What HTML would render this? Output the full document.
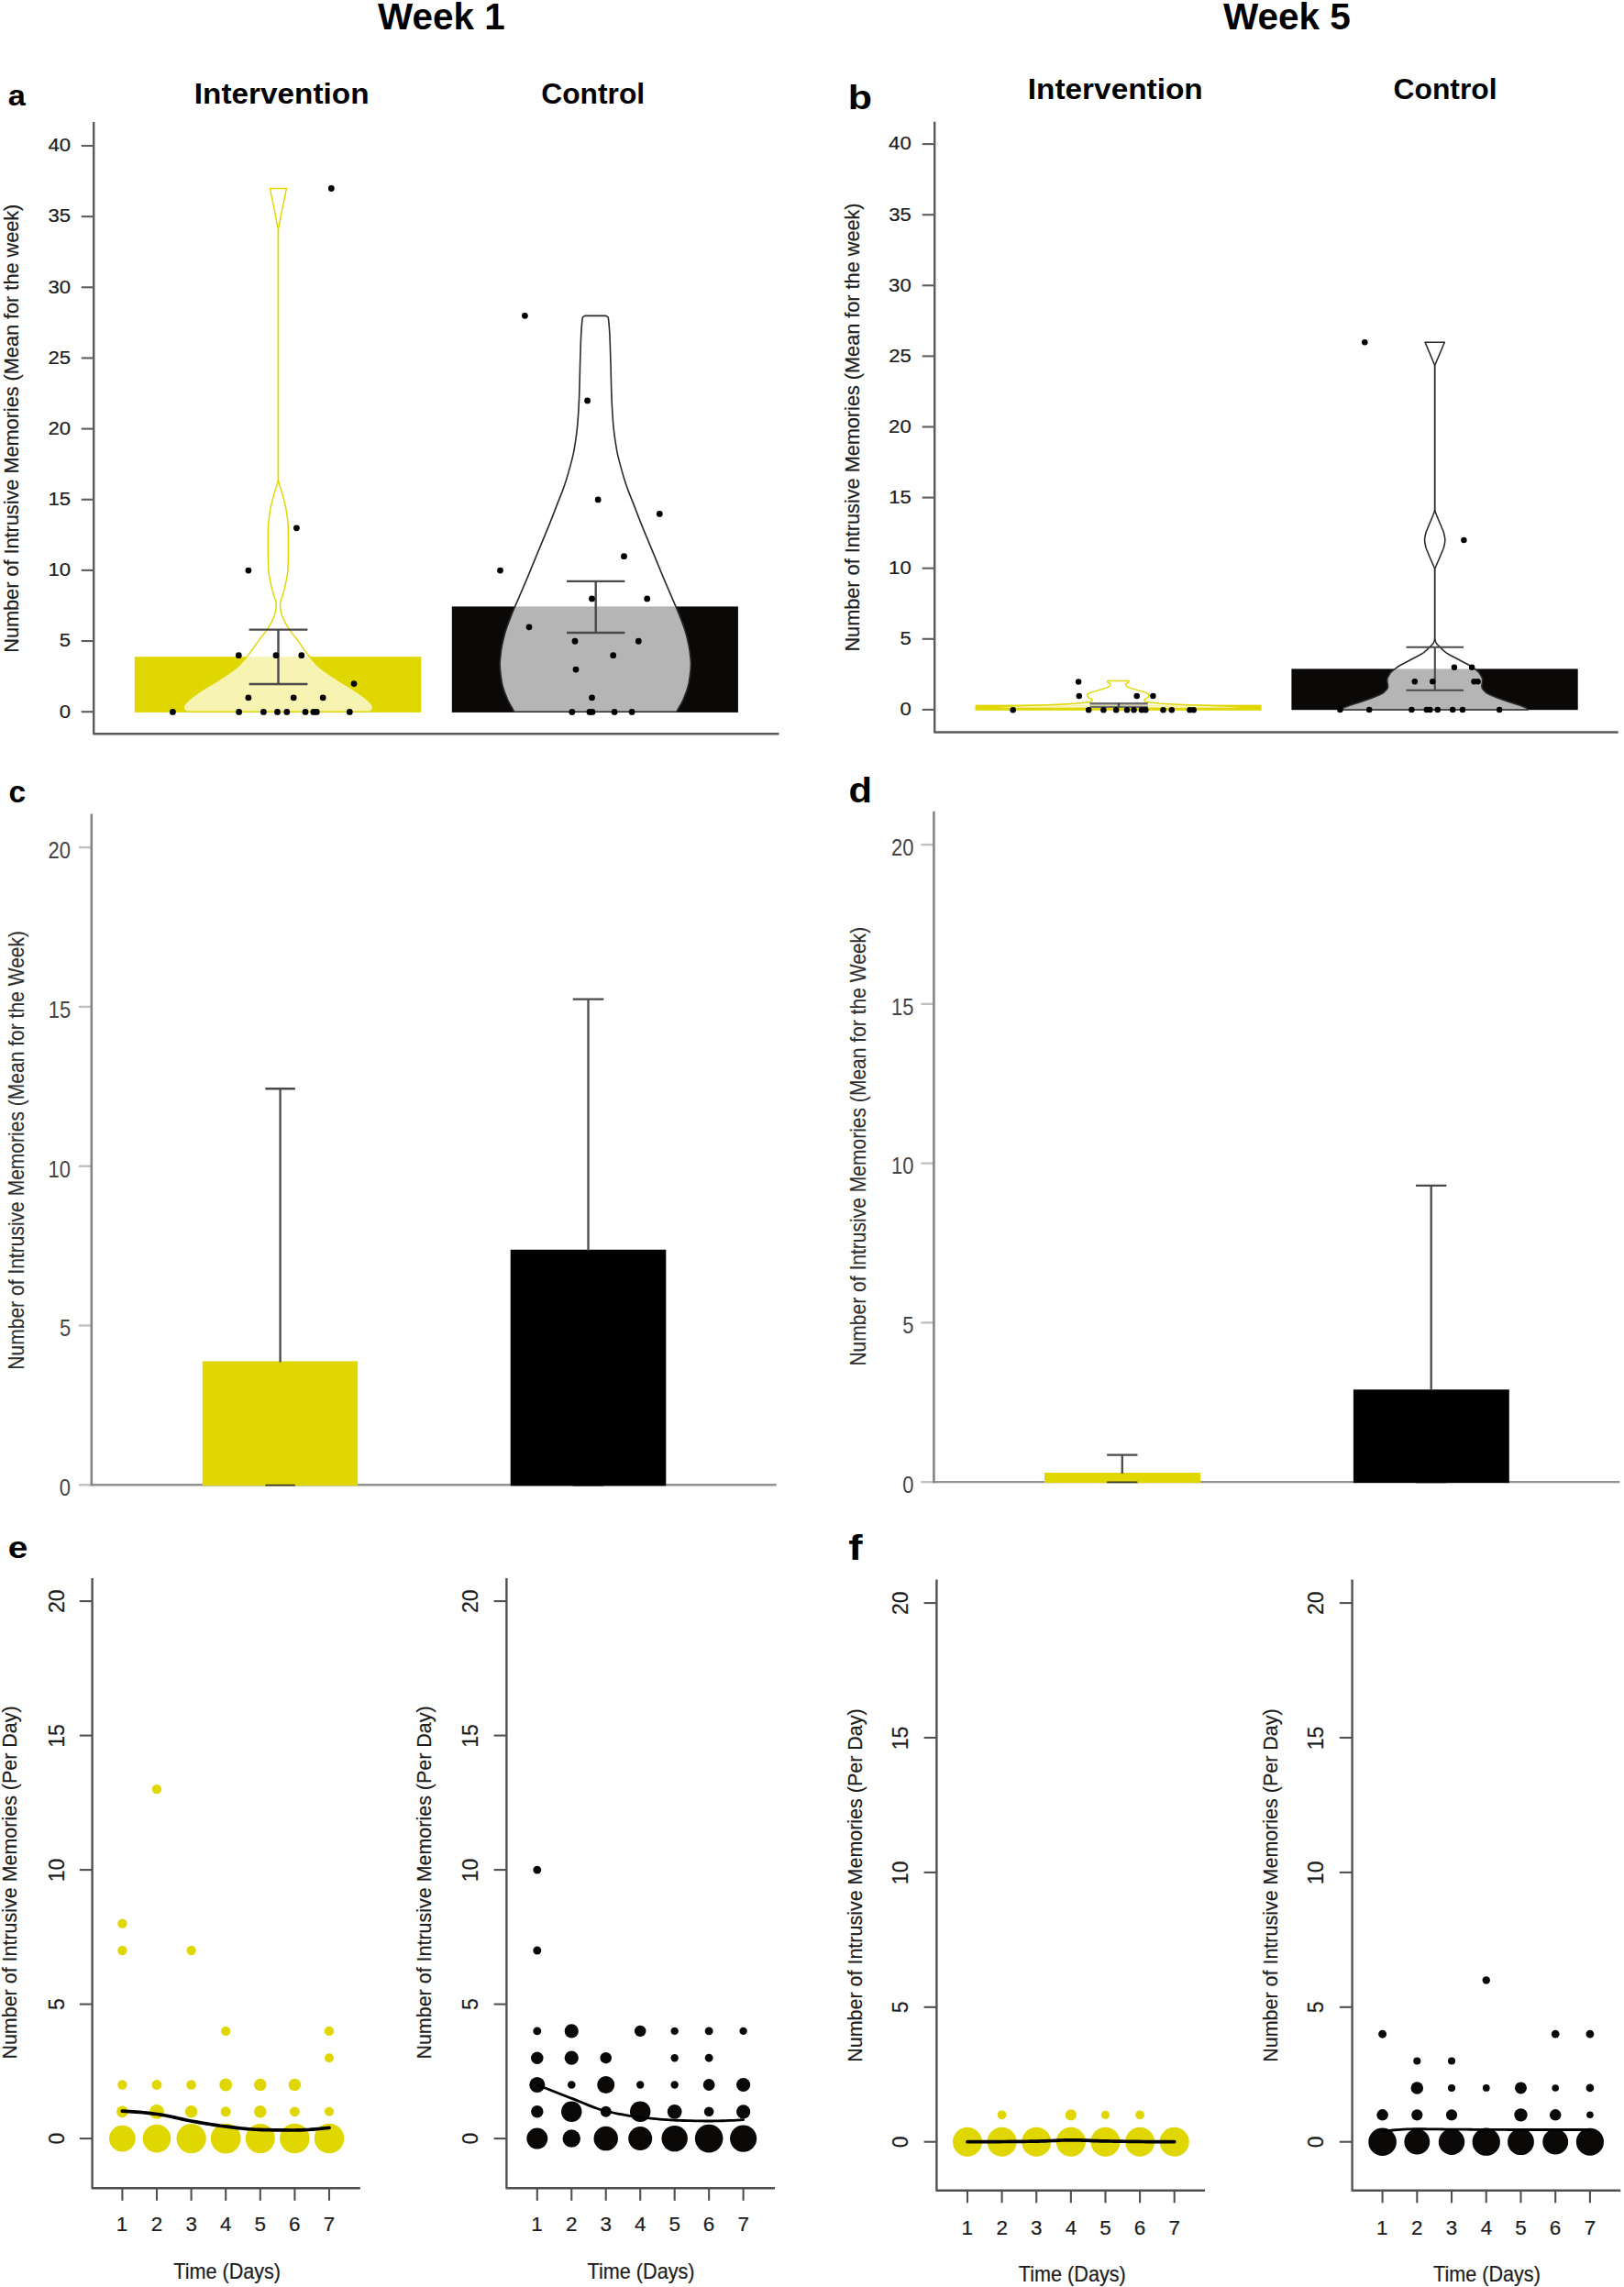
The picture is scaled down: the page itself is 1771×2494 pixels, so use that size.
<!DOCTYPE html>
<html lang="en"><head><meta charset="utf-8"><title>Intrusive memories: Week 1 and Week 5</title>
<style>html,body{margin:0;padding:0;background:#fff}body{width:1771px;height:2494px;overflow:hidden}svg{display:block}text{font-family:'Liberation Sans', sans-serif}</style>
</head><body>
<svg width="1771" height="2494" viewBox="0 0 1771 2494">
<rect width="1771" height="2494" fill="#fff"/>
<text transform="translate(412.1 32.1) scale(0.9816 1)" font-size="41.2" font-weight="700" fill="#000">Week 1</text>
<text transform="translate(1333.9 32.1) scale(0.9844 1)" font-size="41.2" font-weight="700" fill="#000">Week 5</text>
<text transform="translate(211.83 112.5) scale(1.0929 1)" font-size="30.5" font-weight="700" fill="#000">Intervention</text>
<text transform="translate(590.23 112.5) scale(1.0421 1)" font-size="30.5" font-weight="700" fill="#000">Control</text>
<text transform="translate(1120.73 108) scale(1.0947 1)" font-size="30.5" font-weight="700" fill="#000">Intervention</text>
<text transform="translate(1519.53 108.2) scale(1.0431 1)" font-size="30.5" font-weight="700" fill="#000">Control</text>
<text transform="translate(8.87 115.2) scale(1.1094 1)" font-size="31" font-weight="700" fill="#000">a</text>
<text transform="translate(924.81 119.1) scale(1.1489 1)" font-size="37.4" font-weight="700" fill="#000">b</text>
<text transform="translate(9.46 874.7) scale(1.0373 1)" font-size="32.4" font-weight="700" fill="#000">c</text>
<text transform="translate(925.43 874.7) scale(1.0853 1)" font-size="38.5" font-weight="700" fill="#000">d</text>
<text transform="translate(8.74 1699) scale(1.1806 1)" font-size="33" font-weight="700" fill="#000">e</text>
<text transform="translate(925.21 1701) scale(1.1779 1)" font-size="39" font-weight="700" fill="#000">f</text>
<path d="M102.2 133 V800.2 H849.5" fill="none" stroke="#5a5a5a" stroke-width="2.4" stroke-linejoin="round"/>
<line x1="88.7" y1="776.2" x2="102.2" y2="776.2" stroke="#5e5e5e" stroke-width="2.1" stroke-linecap="butt"/>
<text transform="translate(64.69 782.5) scale(1.08 1)" font-size="20.5" fill="#1c1c1c" stroke="#1c1c1c" stroke-width="0.22">0</text>
<line x1="88.7" y1="699.05" x2="102.2" y2="699.05" stroke="#5e5e5e" stroke-width="2.1" stroke-linecap="butt"/>
<text transform="translate(64.8 705.35) scale(1.08 1)" font-size="20.5" fill="#1c1c1c" stroke="#1c1c1c" stroke-width="0.22">5</text>
<line x1="88.7" y1="621.9" x2="102.2" y2="621.9" stroke="#5e5e5e" stroke-width="2.1" stroke-linecap="butt"/>
<text transform="translate(52.4 628.2) scale(1.08 1)" font-size="20.5" fill="#1c1c1c" stroke="#1c1c1c" stroke-width="0.22">10</text>
<line x1="88.7" y1="544.75" x2="102.2" y2="544.75" stroke="#5e5e5e" stroke-width="2.1" stroke-linecap="butt"/>
<text transform="translate(52.51 551.05) scale(1.08 1)" font-size="20.5" fill="#1c1c1c" stroke="#1c1c1c" stroke-width="0.22">15</text>
<line x1="88.7" y1="467.6" x2="102.2" y2="467.6" stroke="#5e5e5e" stroke-width="2.1" stroke-linecap="butt"/>
<text transform="translate(52.4 473.9) scale(1.08 1)" font-size="20.5" fill="#1c1c1c" stroke="#1c1c1c" stroke-width="0.22">20</text>
<line x1="88.7" y1="390.45" x2="102.2" y2="390.45" stroke="#5e5e5e" stroke-width="2.1" stroke-linecap="butt"/>
<text transform="translate(52.51 396.75) scale(1.08 1)" font-size="20.5" fill="#1c1c1c" stroke="#1c1c1c" stroke-width="0.22">25</text>
<line x1="88.7" y1="313.3" x2="102.2" y2="313.3" stroke="#5e5e5e" stroke-width="2.1" stroke-linecap="butt"/>
<text transform="translate(52.4 319.6) scale(1.08 1)" font-size="20.5" fill="#1c1c1c" stroke="#1c1c1c" stroke-width="0.22">30</text>
<line x1="88.7" y1="236.15" x2="102.2" y2="236.15" stroke="#5e5e5e" stroke-width="2.1" stroke-linecap="butt"/>
<text transform="translate(52.51 242.45) scale(1.08 1)" font-size="20.5" fill="#1c1c1c" stroke="#1c1c1c" stroke-width="0.22">35</text>
<line x1="88.7" y1="159" x2="102.2" y2="159" stroke="#5e5e5e" stroke-width="2.1" stroke-linecap="butt"/>
<text transform="translate(52.4 165.3) scale(1.08 1)" font-size="20.5" fill="#1c1c1c" stroke="#1c1c1c" stroke-width="0.22">40</text>
<text transform="translate(19.9 711.74) rotate(-90) scale(1.0091 1)" font-size="21.5" fill="#1c1c1c" stroke="#1c1c1c" stroke-width="0.22">Number of Intrusive Memories (Mean for the week)</text>
<rect x="146.8" y="716.2" width="312.5" height="60.7" fill="#E1D700"/>
<rect x="492.8" y="661.4" width="312.1" height="115.5" fill="#0b0808"/>
<path d="M294.4 205.6 L294.7 207.1 L295 208.6 L295.3 210.1 L295.6 211.6 L295.91 213.1 L296.22 214.6 L296.53 216.1 L296.85 217.6 L297.18 219.1 L297.5 220.6 L297.83 222.1 L298.16 223.6 L298.49 225.1 L298.81 226.6 L299.12 228.1 L299.42 229.6 L299.71 231.1 L299.99 232.6 L300.26 234.1 L300.53 235.6 L300.79 237.1 L301.05 238.6 L301.31 240.1 L301.57 241.6 L301.85 243.1 L302.12 244.6 L302.45 246.1 L302.84 247.6 L303.17 249.1 L303.3 250.6 L303.3 252.1 L303.3 253.6 L303.3 255.1 L303.3 256.6 L303.3 258.1 L303.3 259.6 L303.3 261.1 L303.3 262.6 L303.3 264.1 L303.3 265.6 L303.3 267.1 L303.3 268.6 L303.3 270.1 L303.3 271.6 L303.3 273.1 L303.3 274.6 L303.3 276.1 L303.3 277.6 L303.3 279.1 L303.3 280.6 L303.3 282.1 L303.3 283.6 L303.3 285.1 L303.3 286.6 L303.3 288.1 L303.3 289.6 L303.3 291.1 L303.3 292.6 L303.3 294.1 L303.3 295.6 L303.3 297.1 L303.3 298.6 L303.3 300.1 L303.3 301.6 L303.3 303.1 L303.3 304.6 L303.3 306.1 L303.3 307.6 L303.3 309.1 L303.3 310.6 L303.3 312.1 L303.3 313.6 L303.3 315.1 L303.3 316.6 L303.3 318.1 L303.3 319.6 L303.3 321.1 L303.3 322.6 L303.3 324.1 L303.3 325.6 L303.3 327.1 L303.3 328.6 L303.3 330.1 L303.3 331.6 L303.3 333.1 L303.3 334.6 L303.3 336.1 L303.3 337.6 L303.3 339.1 L303.3 340.6 L303.3 342.1 L303.3 343.6 L303.3 345.1 L303.3 346.6 L303.3 348.1 L303.3 349.6 L303.3 351.1 L303.3 352.6 L303.3 354.1 L303.3 355.6 L303.3 357.1 L303.3 358.6 L303.3 360.1 L303.3 361.6 L303.3 363.1 L303.3 364.6 L303.3 366.1 L303.3 367.6 L303.3 369.1 L303.3 370.6 L303.3 372.1 L303.3 373.6 L303.3 375.1 L303.3 376.6 L303.3 378.1 L303.3 379.6 L303.3 381.1 L303.3 382.6 L303.3 384.1 L303.3 385.6 L303.3 387.1 L303.3 388.6 L303.3 390.1 L303.3 391.6 L303.3 393.1 L303.3 394.6 L303.3 396.1 L303.3 397.6 L303.3 399.1 L303.3 400.6 L303.3 402.1 L303.3 403.6 L303.3 405.1 L303.3 406.6 L303.3 408.1 L303.3 409.6 L303.3 411.1 L303.3 412.6 L303.3 414.1 L303.3 415.6 L303.3 417.1 L303.3 418.6 L303.3 420.1 L303.3 421.6 L303.3 423.1 L303.3 424.6 L303.3 426.1 L303.3 427.6 L303.3 429.1 L303.3 430.6 L303.3 432.1 L303.3 433.6 L303.3 435.1 L303.3 436.6 L303.3 438.1 L303.3 439.6 L303.3 441.1 L303.3 442.6 L303.3 444.1 L303.3 445.6 L303.3 447.1 L303.3 448.6 L303.3 450.1 L303.3 451.6 L303.3 453.1 L303.3 454.6 L303.3 456.1 L303.3 457.6 L303.3 459.1 L303.3 460.6 L303.3 462.1 L303.3 463.6 L303.3 465.1 L303.3 466.6 L303.3 468.1 L303.3 469.6 L303.3 471.1 L303.3 472.6 L303.3 474.1 L303.3 475.6 L303.3 477.1 L303.3 478.6 L303.3 480.1 L303.3 481.6 L303.3 483.1 L303.3 484.6 L303.3 486.1 L303.3 487.6 L303.3 489.1 L303.3 490.6 L303.3 492.1 L303.3 493.6 L303.3 495.1 L303.3 496.6 L303.3 498.1 L303.3 499.6 L303.3 501.1 L303.3 502.6 L303.3 504.1 L303.3 505.6 L303.3 507.1 L303.3 508.6 L303.3 510.1 L303.3 511.6 L303.3 513.1 L303.3 514.6 L303.3 516.1 L303.3 517.6 L303.3 519.1 L303.3 520.6 L303.3 522.1 L303.27 523.6 L303.01 525.1 L302.6 526.6 L302.17 528.1 L301.75 529.6 L301.28 531.1 L300.79 532.6 L300.3 534.1 L299.84 535.6 L299.4 537.1 L298.96 538.6 L298.52 540.1 L298.1 541.6 L297.69 543.1 L297.3 544.6 L296.92 546.1 L296.54 547.6 L296.16 549.1 L295.8 550.6 L295.45 552.1 L295.13 553.6 L294.84 555.1 L294.6 556.6 L294.38 558.1 L294.16 559.6 L293.94 561.1 L293.73 562.6 L293.53 564.1 L293.33 565.6 L293.15 567.1 L292.98 568.6 L292.83 570.1 L292.7 571.6 L292.59 573.1 L292.5 574.6 L292.44 576.1 L292.4 577.6 L292.39 579.1 L292.38 580.6 L292.37 582.1 L292.35 583.6 L292.34 585.1 L292.34 586.6 L292.33 588.1 L292.32 589.6 L292.32 591.1 L292.31 592.6 L292.31 594.1 L292.3 595.6 L292.3 597.1 L292.3 598.6 L292.3 600.1 L292.31 601.6 L292.32 603.1 L292.34 604.6 L292.36 606.1 L292.39 607.6 L292.42 609.1 L292.46 610.6 L292.5 612.1 L292.55 613.6 L292.59 615.1 L292.65 616.6 L292.71 618.1 L292.77 619.6 L292.84 621.1 L292.95 622.6 L293.11 624.1 L293.31 625.6 L293.54 627.1 L293.8 628.6 L294.07 630.1 L294.35 631.6 L294.64 633.1 L294.92 634.6 L295.21 636.1 L295.54 637.6 L295.88 639.1 L296.25 640.6 L296.63 642.1 L297.02 643.6 L297.43 645.1 L297.83 646.6 L298.24 648.1 L298.67 649.6 L299.2 651.1 L299.78 652.6 L300.35 654.1 L300.83 655.6 L301.17 657.1 L301.3 658.6 L301.26 660.1 L301.15 661.6 L300.99 663.1 L300.79 664.6 L300.56 666.1 L300.31 667.6 L299.95 669.1 L299.47 670.6 L298.89 672.1 L298.25 673.6 L297.57 675.1 L296.88 676.6 L296.18 678.1 L295.4 679.6 L294.57 681.1 L293.68 682.6 L292.75 684.1 L291.79 685.6 L290.8 687.1 L289.73 688.6 L288.61 690.1 L287.44 691.6 L286.25 693.1 L285.05 694.6 L283.87 696.1 L282.72 697.6 L281.62 699.1 L280.55 700.6 L279.51 702.1 L278.49 703.6 L277.47 705.1 L276.44 706.6 L275.4 708.1 L274.32 709.6 L273.21 711.1 L272.04 712.6 L270.85 714.1 L269.65 715.6 L268.42 717.1 L267.16 718.6 L265.85 720.1 L264.5 721.6 L263.09 723.1 L261.6 724.6 L260.04 726.1 L258.38 727.6 L256.57 729.1 L254.63 730.6 L252.59 732.1 L250.46 733.6 L248.27 735.1 L246.03 736.6 L243.77 738.1 L241.5 739.6 L239.25 741.1 L236.92 742.6 L234.49 744.1 L232 745.6 L229.47 747.1 L226.94 748.6 L224.44 750.1 L222 751.6 L219.65 753.1 L217.43 754.6 L215.3 756.1 L213.17 757.6 L211.09 759.1 L209.1 760.6 L207.25 762.1 L205.57 763.6 L204.12 765.1 L202.64 766.6 L201.27 768.1 L200.37 769.6 L200.22 771.1 L200.39 772.6 L200.76 774.1 L202.63 775.6 L204.4 776.3 L402.4 776.3 L404.17 775.6 L406.04 774.1 L406.41 772.6 L406.58 771.1 L406.43 769.6 L405.53 768.1 L404.16 766.6 L402.68 765.1 L401.23 763.6 L399.55 762.1 L397.7 760.6 L395.71 759.1 L393.63 757.6 L391.5 756.1 L389.37 754.6 L387.15 753.1 L384.8 751.6 L382.36 750.1 L379.86 748.6 L377.33 747.1 L374.8 745.6 L372.31 744.1 L369.88 742.6 L367.55 741.1 L365.3 739.6 L363.03 738.1 L360.77 736.6 L358.53 735.1 L356.34 733.6 L354.21 732.1 L352.17 730.6 L350.23 729.1 L348.42 727.6 L346.76 726.1 L345.2 724.6 L343.71 723.1 L342.3 721.6 L340.95 720.1 L339.64 718.6 L338.38 717.1 L337.15 715.6 L335.95 714.1 L334.76 712.6 L333.59 711.1 L332.48 709.6 L331.4 708.1 L330.36 706.6 L329.33 705.1 L328.31 703.6 L327.29 702.1 L326.25 700.6 L325.18 699.1 L324.08 697.6 L322.93 696.1 L321.75 694.6 L320.55 693.1 L319.36 691.6 L318.19 690.1 L317.07 688.6 L316 687.1 L315.01 685.6 L314.05 684.1 L313.12 682.6 L312.23 681.1 L311.4 679.6 L310.62 678.1 L309.92 676.6 L309.23 675.1 L308.55 673.6 L307.91 672.1 L307.33 670.6 L306.85 669.1 L306.49 667.6 L306.24 666.1 L306.01 664.6 L305.81 663.1 L305.65 661.6 L305.54 660.1 L305.5 658.6 L305.63 657.1 L305.97 655.6 L306.45 654.1 L307.02 652.6 L307.6 651.1 L308.13 649.6 L308.56 648.1 L308.97 646.6 L309.37 645.1 L309.78 643.6 L310.17 642.1 L310.55 640.6 L310.92 639.1 L311.26 637.6 L311.59 636.1 L311.88 634.6 L312.16 633.1 L312.45 631.6 L312.73 630.1 L313 628.6 L313.26 627.1 L313.49 625.6 L313.69 624.1 L313.85 622.6 L313.96 621.1 L314.03 619.6 L314.09 618.1 L314.15 616.6 L314.21 615.1 L314.25 613.6 L314.3 612.1 L314.34 610.6 L314.38 609.1 L314.41 607.6 L314.44 606.1 L314.46 604.6 L314.48 603.1 L314.49 601.6 L314.5 600.1 L314.5 598.6 L314.5 597.1 L314.5 595.6 L314.49 594.1 L314.49 592.6 L314.48 591.1 L314.48 589.6 L314.47 588.1 L314.46 586.6 L314.46 585.1 L314.45 583.6 L314.43 582.1 L314.42 580.6 L314.41 579.1 L314.4 577.6 L314.36 576.1 L314.3 574.6 L314.21 573.1 L314.1 571.6 L313.97 570.1 L313.82 568.6 L313.65 567.1 L313.47 565.6 L313.27 564.1 L313.07 562.6 L312.86 561.1 L312.64 559.6 L312.42 558.1 L312.2 556.6 L311.96 555.1 L311.67 553.6 L311.35 552.1 L311 550.6 L310.64 549.1 L310.26 547.6 L309.88 546.1 L309.5 544.6 L309.11 543.1 L308.7 541.6 L308.28 540.1 L307.84 538.6 L307.4 537.1 L306.96 535.6 L306.5 534.1 L306.01 532.6 L305.52 531.1 L305.05 529.6 L304.63 528.1 L304.2 526.6 L303.79 525.1 L303.53 523.6 L303.5 522.1 L303.5 520.6 L303.5 519.1 L303.5 517.6 L303.5 516.1 L303.5 514.6 L303.5 513.1 L303.5 511.6 L303.5 510.1 L303.5 508.6 L303.5 507.1 L303.5 505.6 L303.5 504.1 L303.5 502.6 L303.5 501.1 L303.5 499.6 L303.5 498.1 L303.5 496.6 L303.5 495.1 L303.5 493.6 L303.5 492.1 L303.5 490.6 L303.5 489.1 L303.5 487.6 L303.5 486.1 L303.5 484.6 L303.5 483.1 L303.5 481.6 L303.5 480.1 L303.5 478.6 L303.5 477.1 L303.5 475.6 L303.5 474.1 L303.5 472.6 L303.5 471.1 L303.5 469.6 L303.5 468.1 L303.5 466.6 L303.5 465.1 L303.5 463.6 L303.5 462.1 L303.5 460.6 L303.5 459.1 L303.5 457.6 L303.5 456.1 L303.5 454.6 L303.5 453.1 L303.5 451.6 L303.5 450.1 L303.5 448.6 L303.5 447.1 L303.5 445.6 L303.5 444.1 L303.5 442.6 L303.5 441.1 L303.5 439.6 L303.5 438.1 L303.5 436.6 L303.5 435.1 L303.5 433.6 L303.5 432.1 L303.5 430.6 L303.5 429.1 L303.5 427.6 L303.5 426.1 L303.5 424.6 L303.5 423.1 L303.5 421.6 L303.5 420.1 L303.5 418.6 L303.5 417.1 L303.5 415.6 L303.5 414.1 L303.5 412.6 L303.5 411.1 L303.5 409.6 L303.5 408.1 L303.5 406.6 L303.5 405.1 L303.5 403.6 L303.5 402.1 L303.5 400.6 L303.5 399.1 L303.5 397.6 L303.5 396.1 L303.5 394.6 L303.5 393.1 L303.5 391.6 L303.5 390.1 L303.5 388.6 L303.5 387.1 L303.5 385.6 L303.5 384.1 L303.5 382.6 L303.5 381.1 L303.5 379.6 L303.5 378.1 L303.5 376.6 L303.5 375.1 L303.5 373.6 L303.5 372.1 L303.5 370.6 L303.5 369.1 L303.5 367.6 L303.5 366.1 L303.5 364.6 L303.5 363.1 L303.5 361.6 L303.5 360.1 L303.5 358.6 L303.5 357.1 L303.5 355.6 L303.5 354.1 L303.5 352.6 L303.5 351.1 L303.5 349.6 L303.5 348.1 L303.5 346.6 L303.5 345.1 L303.5 343.6 L303.5 342.1 L303.5 340.6 L303.5 339.1 L303.5 337.6 L303.5 336.1 L303.5 334.6 L303.5 333.1 L303.5 331.6 L303.5 330.1 L303.5 328.6 L303.5 327.1 L303.5 325.6 L303.5 324.1 L303.5 322.6 L303.5 321.1 L303.5 319.6 L303.5 318.1 L303.5 316.6 L303.5 315.1 L303.5 313.6 L303.5 312.1 L303.5 310.6 L303.5 309.1 L303.5 307.6 L303.5 306.1 L303.5 304.6 L303.5 303.1 L303.5 301.6 L303.5 300.1 L303.5 298.6 L303.5 297.1 L303.5 295.6 L303.5 294.1 L303.5 292.6 L303.5 291.1 L303.5 289.6 L303.5 288.1 L303.5 286.6 L303.5 285.1 L303.5 283.6 L303.5 282.1 L303.5 280.6 L303.5 279.1 L303.5 277.6 L303.5 276.1 L303.5 274.6 L303.5 273.1 L303.5 271.6 L303.5 270.1 L303.5 268.6 L303.5 267.1 L303.5 265.6 L303.5 264.1 L303.5 262.6 L303.5 261.1 L303.5 259.6 L303.5 258.1 L303.5 256.6 L303.5 255.1 L303.5 253.6 L303.5 252.1 L303.5 250.6 L303.63 249.1 L303.96 247.6 L304.35 246.1 L304.68 244.6 L304.95 243.1 L305.23 241.6 L305.49 240.1 L305.75 238.6 L306.01 237.1 L306.27 235.6 L306.54 234.1 L306.81 232.6 L307.09 231.1 L307.38 229.6 L307.68 228.1 L307.99 226.6 L308.31 225.1 L308.64 223.6 L308.97 222.1 L309.3 220.6 L309.62 219.1 L309.95 217.6 L310.27 216.1 L310.58 214.6 L310.89 213.1 L311.2 211.6 L311.5 210.1 L311.8 208.6 L312.1 207.1 L312.4 205.6 Z" fill="rgba(255,255,255,0.7)" stroke="#E1D700" stroke-width="1.5" stroke-linejoin="round"/>
<path d="M637.8 344.4 L635.5 345.9 L635.15 347.4 L634.98 348.9 L634.81 350.4 L634.66 351.9 L634.52 353.4 L634.39 354.9 L634.26 356.4 L634.15 357.9 L634.04 359.4 L633.94 360.9 L633.85 362.4 L633.77 363.9 L633.69 365.4 L633.61 366.9 L633.55 368.4 L633.48 369.9 L633.42 371.4 L633.37 372.9 L633.31 374.4 L633.26 375.9 L633.21 377.4 L633.17 378.9 L633.12 380.4 L633.07 381.9 L633.03 383.4 L632.98 384.9 L632.93 386.4 L632.88 387.9 L632.83 389.4 L632.78 390.9 L632.73 392.4 L632.68 393.9 L632.63 395.4 L632.59 396.9 L632.54 398.4 L632.5 399.9 L632.47 401.4 L632.43 402.9 L632.39 404.4 L632.36 405.9 L632.32 407.4 L632.29 408.9 L632.26 410.4 L632.22 411.9 L632.19 413.4 L632.15 414.9 L632.12 416.4 L632.08 417.9 L632.04 419.4 L632.01 420.9 L631.96 422.4 L631.92 423.9 L631.88 425.4 L631.83 426.9 L631.78 428.4 L631.73 429.9 L631.67 431.4 L631.61 432.9 L631.55 434.4 L631.49 435.9 L631.42 437.4 L631.35 438.9 L631.28 440.4 L631.21 441.9 L631.13 443.4 L631.05 444.9 L630.96 446.4 L630.88 447.9 L630.79 449.4 L630.7 450.9 L630.6 452.4 L630.5 453.9 L630.4 455.4 L630.29 456.9 L630.18 458.4 L630.06 459.9 L629.94 461.4 L629.82 462.9 L629.68 464.4 L629.53 465.9 L629.38 467.4 L629.21 468.9 L629.04 470.4 L628.86 471.9 L628.68 473.4 L628.48 474.9 L628.28 476.4 L628.07 477.9 L627.86 479.4 L627.63 480.9 L627.4 482.4 L627.17 483.9 L626.93 485.4 L626.68 486.9 L626.43 488.4 L626.17 489.9 L625.91 491.4 L625.63 492.9 L625.33 494.4 L625 495.9 L624.66 497.4 L624.3 498.9 L623.93 500.4 L623.55 501.9 L623.16 503.4 L622.76 504.9 L622.36 506.4 L621.95 507.9 L621.54 509.4 L621.13 510.9 L620.72 512.4 L620.29 513.9 L619.87 515.4 L619.43 516.9 L618.98 518.4 L618.53 519.9 L618.07 521.4 L617.6 522.9 L617.12 524.4 L616.64 525.9 L616.15 527.4 L615.65 528.9 L615.14 530.4 L614.62 531.9 L614.09 533.4 L613.54 534.9 L612.98 536.4 L612.41 537.9 L611.82 539.4 L611.23 540.9 L610.63 542.4 L610.03 543.9 L609.43 545.4 L608.83 546.9 L608.24 548.4 L607.65 549.9 L607.06 551.4 L606.48 552.9 L605.9 554.4 L605.33 555.9 L604.75 557.4 L604.18 558.9 L603.6 560.4 L603.02 561.9 L602.44 563.4 L601.86 564.9 L601.28 566.4 L600.69 567.9 L600.1 569.4 L599.5 570.9 L598.9 572.4 L598.29 573.9 L597.68 575.4 L597.07 576.9 L596.45 578.4 L595.83 579.9 L595.2 581.4 L594.58 582.9 L593.95 584.4 L593.33 585.9 L592.7 587.4 L592.08 588.9 L591.45 590.4 L590.83 591.9 L590.22 593.4 L589.6 594.9 L588.98 596.4 L588.36 597.9 L587.74 599.4 L587.12 600.9 L586.5 602.4 L585.88 603.9 L585.26 605.4 L584.64 606.9 L584.02 608.4 L583.4 609.9 L582.78 611.4 L582.16 612.9 L581.55 614.4 L580.93 615.9 L580.31 617.4 L579.7 618.9 L579.08 620.4 L578.47 621.9 L577.85 623.4 L577.23 624.9 L576.61 626.4 L575.99 627.9 L575.36 629.4 L574.74 630.9 L574.11 632.4 L573.47 633.9 L572.83 635.4 L572.19 636.9 L571.55 638.4 L570.91 639.9 L570.26 641.4 L569.62 642.9 L568.97 644.4 L568.33 645.9 L567.68 647.4 L567.04 648.9 L566.4 650.4 L565.76 651.9 L565.12 653.4 L564.47 654.9 L563.81 656.4 L563.16 657.9 L562.51 659.4 L561.85 660.9 L561.2 662.4 L560.56 663.9 L559.92 665.4 L559.3 666.9 L558.68 668.4 L558.08 669.9 L557.49 671.4 L556.92 672.9 L556.34 674.4 L555.76 675.9 L555.19 677.4 L554.62 678.9 L554.05 680.4 L553.5 681.9 L552.97 683.4 L552.45 684.9 L551.94 686.4 L551.47 687.9 L551.01 689.4 L550.59 690.9 L550.2 692.4 L549.82 693.9 L549.44 695.4 L549.07 696.9 L548.72 698.4 L548.37 699.9 L548.04 701.4 L547.72 702.9 L547.42 704.4 L547.14 705.9 L546.88 707.4 L546.64 708.9 L546.42 710.4 L546.23 711.9 L546.06 713.4 L545.89 714.9 L545.72 716.4 L545.56 717.9 L545.42 719.4 L545.31 720.9 L545.23 722.4 L545.2 723.9 L545.21 725.4 L545.26 726.9 L545.33 728.4 L545.44 729.9 L545.57 731.4 L545.72 732.9 L545.9 734.4 L546.08 735.9 L546.29 737.4 L546.5 738.9 L546.72 740.4 L546.94 741.9 L547.18 743.4 L547.46 744.9 L547.8 746.4 L548.17 747.9 L548.59 749.4 L549.04 750.9 L549.52 752.4 L550.03 753.9 L550.57 755.4 L551.12 756.9 L551.7 758.4 L552.29 759.9 L552.89 761.4 L553.51 762.9 L554.2 764.4 L554.98 765.9 L555.8 767.4 L556.67 768.9 L557.55 770.4 L558.41 771.9 L559.25 773.4 L560.05 774.9 L560.8 776.3 L737.8 776.3 L738.55 774.9 L739.35 773.4 L740.19 771.9 L741.05 770.4 L741.93 768.9 L742.8 767.4 L743.62 765.9 L744.4 764.4 L745.09 762.9 L745.71 761.4 L746.31 759.9 L746.9 758.4 L747.48 756.9 L748.03 755.4 L748.57 753.9 L749.08 752.4 L749.56 750.9 L750.01 749.4 L750.43 747.9 L750.8 746.4 L751.14 744.9 L751.42 743.4 L751.66 741.9 L751.88 740.4 L752.1 738.9 L752.31 737.4 L752.52 735.9 L752.7 734.4 L752.88 732.9 L753.03 731.4 L753.16 729.9 L753.27 728.4 L753.34 726.9 L753.39 725.4 L753.4 723.9 L753.37 722.4 L753.29 720.9 L753.18 719.4 L753.04 717.9 L752.88 716.4 L752.71 714.9 L752.54 713.4 L752.37 711.9 L752.18 710.4 L751.96 708.9 L751.72 707.4 L751.46 705.9 L751.18 704.4 L750.88 702.9 L750.56 701.4 L750.23 699.9 L749.88 698.4 L749.53 696.9 L749.16 695.4 L748.78 693.9 L748.4 692.4 L748.01 690.9 L747.59 689.4 L747.13 687.9 L746.66 686.4 L746.15 684.9 L745.63 683.4 L745.1 681.9 L744.55 680.4 L743.98 678.9 L743.41 677.4 L742.84 675.9 L742.26 674.4 L741.68 672.9 L741.11 671.4 L740.52 669.9 L739.92 668.4 L739.3 666.9 L738.68 665.4 L738.04 663.9 L737.4 662.4 L736.75 660.9 L736.09 659.4 L735.44 657.9 L734.79 656.4 L734.13 654.9 L733.48 653.4 L732.84 651.9 L732.2 650.4 L731.56 648.9 L730.92 647.4 L730.27 645.9 L729.63 644.4 L728.98 642.9 L728.34 641.4 L727.69 639.9 L727.05 638.4 L726.41 636.9 L725.77 635.4 L725.13 633.9 L724.49 632.4 L723.86 630.9 L723.24 629.4 L722.61 627.9 L721.99 626.4 L721.37 624.9 L720.75 623.4 L720.13 621.9 L719.52 620.4 L718.9 618.9 L718.29 617.4 L717.67 615.9 L717.05 614.4 L716.44 612.9 L715.82 611.4 L715.2 609.9 L714.58 608.4 L713.96 606.9 L713.34 605.4 L712.72 603.9 L712.1 602.4 L711.48 600.9 L710.86 599.4 L710.24 597.9 L709.62 596.4 L709 594.9 L708.38 593.4 L707.77 591.9 L707.15 590.4 L706.52 588.9 L705.9 587.4 L705.27 585.9 L704.65 584.4 L704.02 582.9 L703.4 581.4 L702.77 579.9 L702.15 578.4 L701.53 576.9 L700.92 575.4 L700.31 573.9 L699.7 572.4 L699.1 570.9 L698.5 569.4 L697.91 567.9 L697.32 566.4 L696.74 564.9 L696.16 563.4 L695.58 561.9 L695 560.4 L694.42 558.9 L693.85 557.4 L693.27 555.9 L692.7 554.4 L692.12 552.9 L691.54 551.4 L690.95 549.9 L690.36 548.4 L689.77 546.9 L689.17 545.4 L688.57 543.9 L687.97 542.4 L687.37 540.9 L686.78 539.4 L686.19 537.9 L685.62 536.4 L685.06 534.9 L684.51 533.4 L683.98 531.9 L683.46 530.4 L682.95 528.9 L682.45 527.4 L681.96 525.9 L681.48 524.4 L681 522.9 L680.53 521.4 L680.07 519.9 L679.62 518.4 L679.17 516.9 L678.73 515.4 L678.31 513.9 L677.88 512.4 L677.47 510.9 L677.06 509.4 L676.65 507.9 L676.24 506.4 L675.84 504.9 L675.44 503.4 L675.05 501.9 L674.67 500.4 L674.3 498.9 L673.94 497.4 L673.6 495.9 L673.27 494.4 L672.97 492.9 L672.69 491.4 L672.43 489.9 L672.17 488.4 L671.92 486.9 L671.67 485.4 L671.43 483.9 L671.2 482.4 L670.97 480.9 L670.74 479.4 L670.53 477.9 L670.32 476.4 L670.12 474.9 L669.92 473.4 L669.74 471.9 L669.56 470.4 L669.39 468.9 L669.22 467.4 L669.07 465.9 L668.92 464.4 L668.78 462.9 L668.66 461.4 L668.54 459.9 L668.42 458.4 L668.31 456.9 L668.2 455.4 L668.1 453.9 L668 452.4 L667.9 450.9 L667.81 449.4 L667.72 447.9 L667.64 446.4 L667.55 444.9 L667.47 443.4 L667.39 441.9 L667.32 440.4 L667.25 438.9 L667.18 437.4 L667.11 435.9 L667.05 434.4 L666.99 432.9 L666.93 431.4 L666.87 429.9 L666.82 428.4 L666.77 426.9 L666.72 425.4 L666.68 423.9 L666.64 422.4 L666.59 420.9 L666.56 419.4 L666.52 417.9 L666.48 416.4 L666.45 414.9 L666.41 413.4 L666.38 411.9 L666.34 410.4 L666.31 408.9 L666.28 407.4 L666.24 405.9 L666.21 404.4 L666.17 402.9 L666.13 401.4 L666.1 399.9 L666.06 398.4 L666.01 396.9 L665.97 395.4 L665.92 393.9 L665.87 392.4 L665.82 390.9 L665.77 389.4 L665.72 387.9 L665.67 386.4 L665.62 384.9 L665.57 383.4 L665.53 381.9 L665.48 380.4 L665.43 378.9 L665.39 377.4 L665.34 375.9 L665.29 374.4 L665.23 372.9 L665.18 371.4 L665.12 369.9 L665.05 368.4 L664.99 366.9 L664.91 365.4 L664.83 363.9 L664.75 362.4 L664.66 360.9 L664.56 359.4 L664.45 357.9 L664.34 356.4 L664.21 354.9 L664.08 353.4 L663.94 351.9 L663.79 350.4 L663.62 348.9 L663.45 347.4 L663.1 345.9 L660.8 344.4 Z" fill="rgba(255,255,255,0.7)" stroke="#2a2a2a" stroke-width="1.6" stroke-linejoin="round"/>
<line x1="303.5" y1="686.6" x2="303.5" y2="746" stroke="#4a4a4a" stroke-width="2.4" stroke-linecap="butt"/>
<line x1="271.6" y1="686.6" x2="335.4" y2="686.6" stroke="#4a4a4a" stroke-width="2.4" stroke-linecap="butt"/>
<line x1="271.6" y1="746" x2="335.4" y2="746" stroke="#4a4a4a" stroke-width="2.4" stroke-linecap="butt"/>
<line x1="649.7" y1="633.9" x2="649.7" y2="690" stroke="#4a4a4a" stroke-width="2.4" stroke-linecap="butt"/>
<line x1="618.05" y1="633.9" x2="681.35" y2="633.9" stroke="#4a4a4a" stroke-width="2.4" stroke-linecap="butt"/>
<line x1="618.05" y1="690" x2="681.35" y2="690" stroke="#4a4a4a" stroke-width="2.4" stroke-linecap="butt"/>
<circle cx="188.4" cy="776.4" r="3.4" fill="#000"/>
<circle cx="260.6" cy="776.4" r="3.4" fill="#000"/>
<circle cx="287.4" cy="776.4" r="3.4" fill="#000"/>
<circle cx="302.5" cy="776.4" r="3.4" fill="#000"/>
<circle cx="312.8" cy="776.4" r="3.4" fill="#000"/>
<circle cx="333" cy="776.4" r="3.4" fill="#000"/>
<circle cx="341.9" cy="776.4" r="3.4" fill="#000"/>
<circle cx="345.3" cy="776.4" r="3.4" fill="#000"/>
<circle cx="381.3" cy="776.4" r="3.4" fill="#000"/>
<circle cx="270.9" cy="760.97" r="3.4" fill="#000"/>
<circle cx="320.2" cy="760.97" r="3.4" fill="#000"/>
<circle cx="352.2" cy="760.97" r="3.4" fill="#000"/>
<circle cx="386" cy="745.54" r="3.4" fill="#000"/>
<circle cx="260.3" cy="714.68" r="3.4" fill="#000"/>
<circle cx="301" cy="714.68" r="3.4" fill="#000"/>
<circle cx="328.8" cy="714.68" r="3.4" fill="#000"/>
<circle cx="270.9" cy="622.1" r="3.4" fill="#000"/>
<circle cx="323.4" cy="575.81" r="3.4" fill="#000"/>
<circle cx="361.3" cy="205.49" r="3.4" fill="#000"/>
<circle cx="572.4" cy="344.36" r="3.4" fill="#000"/>
<circle cx="640.6" cy="436.94" r="3.4" fill="#000"/>
<circle cx="652.2" cy="544.95" r="3.4" fill="#000"/>
<circle cx="719.3" cy="560.38" r="3.4" fill="#000"/>
<circle cx="680.5" cy="606.67" r="3.4" fill="#000"/>
<circle cx="545.5" cy="622.1" r="3.4" fill="#000"/>
<circle cx="645.5" cy="652.96" r="3.4" fill="#000"/>
<circle cx="705.7" cy="652.96" r="3.4" fill="#000"/>
<circle cx="577" cy="683.82" r="3.4" fill="#000"/>
<circle cx="627" cy="699.25" r="3.4" fill="#000"/>
<circle cx="696.3" cy="699.25" r="3.4" fill="#000"/>
<circle cx="668.7" cy="714.68" r="3.4" fill="#000"/>
<circle cx="628" cy="730.11" r="3.4" fill="#000"/>
<circle cx="645.5" cy="760.97" r="3.4" fill="#000"/>
<circle cx="623.8" cy="776.4" r="3.4" fill="#000"/>
<circle cx="643" cy="776.4" r="3.4" fill="#000"/>
<circle cx="646" cy="776.4" r="3.4" fill="#000"/>
<circle cx="670.1" cy="776.4" r="3.4" fill="#000"/>
<circle cx="689.1" cy="776.4" r="3.4" fill="#000"/>
<path d="M1019.2 132.7 V798.5 H1764.7" fill="none" stroke="#5a5a5a" stroke-width="2.4" stroke-linejoin="round"/>
<line x1="1005.7" y1="773.9" x2="1019.2" y2="773.9" stroke="#5e5e5e" stroke-width="2.1" stroke-linecap="butt"/>
<text transform="translate(981.39 780.2) scale(1.08 1)" font-size="20.5" fill="#1c1c1c" stroke="#1c1c1c" stroke-width="0.22">0</text>
<line x1="1005.7" y1="696.8" x2="1019.2" y2="696.8" stroke="#5e5e5e" stroke-width="2.1" stroke-linecap="butt"/>
<text transform="translate(981.5 703.1) scale(1.08 1)" font-size="20.5" fill="#1c1c1c" stroke="#1c1c1c" stroke-width="0.22">5</text>
<line x1="1005.7" y1="619.7" x2="1019.2" y2="619.7" stroke="#5e5e5e" stroke-width="2.1" stroke-linecap="butt"/>
<text transform="translate(969.1 626) scale(1.08 1)" font-size="20.5" fill="#1c1c1c" stroke="#1c1c1c" stroke-width="0.22">10</text>
<line x1="1005.7" y1="542.6" x2="1019.2" y2="542.6" stroke="#5e5e5e" stroke-width="2.1" stroke-linecap="butt"/>
<text transform="translate(969.21 548.9) scale(1.08 1)" font-size="20.5" fill="#1c1c1c" stroke="#1c1c1c" stroke-width="0.22">15</text>
<line x1="1005.7" y1="465.5" x2="1019.2" y2="465.5" stroke="#5e5e5e" stroke-width="2.1" stroke-linecap="butt"/>
<text transform="translate(969.1 471.8) scale(1.08 1)" font-size="20.5" fill="#1c1c1c" stroke="#1c1c1c" stroke-width="0.22">20</text>
<line x1="1005.7" y1="388.4" x2="1019.2" y2="388.4" stroke="#5e5e5e" stroke-width="2.1" stroke-linecap="butt"/>
<text transform="translate(969.21 394.7) scale(1.08 1)" font-size="20.5" fill="#1c1c1c" stroke="#1c1c1c" stroke-width="0.22">25</text>
<line x1="1005.7" y1="311.3" x2="1019.2" y2="311.3" stroke="#5e5e5e" stroke-width="2.1" stroke-linecap="butt"/>
<text transform="translate(969.1 317.6) scale(1.08 1)" font-size="20.5" fill="#1c1c1c" stroke="#1c1c1c" stroke-width="0.22">30</text>
<line x1="1005.7" y1="234.2" x2="1019.2" y2="234.2" stroke="#5e5e5e" stroke-width="2.1" stroke-linecap="butt"/>
<text transform="translate(969.21 240.5) scale(1.08 1)" font-size="20.5" fill="#1c1c1c" stroke="#1c1c1c" stroke-width="0.22">35</text>
<line x1="1005.7" y1="157.1" x2="1019.2" y2="157.1" stroke="#5e5e5e" stroke-width="2.1" stroke-linecap="butt"/>
<text transform="translate(969.1 163.4) scale(1.08 1)" font-size="20.5" fill="#1c1c1c" stroke="#1c1c1c" stroke-width="0.22">40</text>
<text transform="translate(937 710.53) rotate(-90) scale(1.0181 1)" font-size="21.3" fill="#1c1c1c" stroke="#1c1c1c" stroke-width="0.22">Number of Intrusive Memories (Mean for the week)</text>
<rect x="1063.5" y="768.6" width="312.1" height="6.2" fill="#E1D700"/>
<rect x="1408.4" y="729.4" width="312.3" height="44.8" fill="#0b0808"/>
<path d="M1207.8 742.4 L1207.8 742.9 L1207.8 743.4 L1207.8 743.9 L1208.2 744.4 L1209.4 744.9 L1210.6 745.4 L1211 745.9 L1210.97 746.4 L1210.91 746.9 L1210.82 747.4 L1210.57 747.9 L1209.94 748.4 L1209.07 748.9 L1208.09 749.4 L1207.01 749.9 L1205.63 750.4 L1204.04 750.9 L1202.37 751.4 L1200.72 751.9 L1199.07 752.4 L1197.28 752.9 L1195.43 753.4 L1193.64 753.9 L1192 754.4 L1190.63 754.9 L1189.47 755.4 L1188.3 755.9 L1187.21 756.4 L1186.33 756.9 L1185.76 757.4 L1185.6 757.9 L1185.69 758.4 L1185.88 758.9 L1186.15 759.4 L1186.48 759.9 L1186.83 760.4 L1187.32 760.9 L1188.15 761.4 L1189.11 761.9 L1190.04 762.4 L1190.73 762.9 L1191 763.4 L1190.88 763.9 L1190.54 764.4 L1190.02 764.9 L1188.53 765.4 L1184.96 765.9 L1180.35 766.4 L1175 766.9 L1167.91 767.4 L1159.29 767.9 L1147.85 768.4 L1132.53 768.9 L1116.82 769.4 L1104.23 769.9 L1094.15 770.4 L1085.81 770.9 L1079.19 771.4 L1073.58 771.9 L1069.4 772.4 L1369.4 772.4 L1365.22 771.9 L1359.61 771.4 L1352.99 770.9 L1344.65 770.4 L1334.57 769.9 L1321.98 769.4 L1306.27 768.9 L1290.95 768.4 L1279.51 767.9 L1270.89 767.4 L1263.8 766.9 L1258.45 766.4 L1253.84 765.9 L1250.27 765.4 L1248.78 764.9 L1248.26 764.4 L1247.92 763.9 L1247.8 763.4 L1248.07 762.9 L1248.76 762.4 L1249.69 761.9 L1250.65 761.4 L1251.48 760.9 L1251.97 760.4 L1252.32 759.9 L1252.65 759.4 L1252.92 758.9 L1253.11 758.4 L1253.2 757.9 L1253.04 757.4 L1252.47 756.9 L1251.59 756.4 L1250.5 755.9 L1249.33 755.4 L1248.17 754.9 L1246.8 754.4 L1245.16 753.9 L1243.37 753.4 L1241.52 752.9 L1239.73 752.4 L1238.08 751.9 L1236.43 751.4 L1234.76 750.9 L1233.17 750.4 L1231.79 749.9 L1230.71 749.4 L1229.73 748.9 L1228.86 748.4 L1228.23 747.9 L1227.98 747.4 L1227.89 746.9 L1227.83 746.4 L1227.8 745.9 L1228.2 745.4 L1229.4 744.9 L1230.6 744.4 L1231 743.9 L1231 743.4 L1231 742.9 L1231 742.4 Z" fill="rgba(255,255,255,0.7)" stroke="#E1D700" stroke-width="1.5" stroke-linejoin="round"/>
<line x1="1188.5" y1="767.3" x2="1251.7" y2="767.3" stroke="#6e6e6e" stroke-width="2.4" stroke-linecap="butt"/>
<line x1="1188.5" y1="770.8" x2="1251.7" y2="770.8" stroke="#6e6e6e" stroke-width="2.2" stroke-linecap="butt"/>
<line x1="1220" y1="766.5" x2="1220" y2="771.5" stroke="#4a4a4a" stroke-width="2.4" stroke-linecap="butt"/>
<path d="M1554.1 373.3 L1554.41 374.05 L1554.73 374.8 L1555.04 375.55 L1555.35 376.3 L1555.67 377.05 L1555.98 377.8 L1556.29 378.55 L1556.61 379.3 L1556.92 380.05 L1557.24 380.8 L1557.55 381.55 L1557.87 382.3 L1558.18 383.05 L1558.5 383.8 L1558.81 384.55 L1559.13 385.3 L1559.44 386.05 L1559.76 386.8 L1560.07 387.55 L1560.39 388.3 L1560.7 389.05 L1561.02 389.8 L1561.33 390.55 L1561.65 391.3 L1561.98 392.05 L1562.3 392.8 L1562.62 393.55 L1562.94 394.3 L1563.24 395.05 L1563.53 395.8 L1563.82 396.55 L1564.15 397.3 L1564.44 398.05 L1564.59 398.8 L1564.6 399.55 L1564.6 400.3 L1564.6 401.05 L1564.6 401.8 L1564.6 402.55 L1564.6 403.3 L1564.6 404.05 L1564.6 404.8 L1564.6 405.55 L1564.6 406.3 L1564.6 407.05 L1564.6 407.8 L1564.6 408.55 L1564.6 409.3 L1564.6 410.05 L1564.6 410.8 L1564.6 411.55 L1564.6 412.3 L1564.6 413.05 L1564.6 413.8 L1564.6 414.55 L1564.6 415.3 L1564.6 416.05 L1564.6 416.8 L1564.6 417.55 L1564.6 418.3 L1564.6 419.05 L1564.6 419.8 L1564.6 420.55 L1564.6 421.3 L1564.6 422.05 L1564.6 422.8 L1564.6 423.55 L1564.6 424.3 L1564.6 425.05 L1564.6 425.8 L1564.6 426.55 L1564.6 427.3 L1564.6 428.05 L1564.6 428.8 L1564.6 429.55 L1564.6 430.3 L1564.6 431.05 L1564.6 431.8 L1564.6 432.55 L1564.6 433.3 L1564.6 434.05 L1564.6 434.8 L1564.6 435.55 L1564.6 436.3 L1564.6 437.05 L1564.6 437.8 L1564.6 438.55 L1564.6 439.3 L1564.6 440.05 L1564.6 440.8 L1564.6 441.55 L1564.6 442.3 L1564.6 443.05 L1564.6 443.8 L1564.6 444.55 L1564.6 445.3 L1564.6 446.05 L1564.6 446.8 L1564.6 447.55 L1564.6 448.3 L1564.6 449.05 L1564.6 449.8 L1564.6 450.55 L1564.6 451.3 L1564.6 452.05 L1564.6 452.8 L1564.6 453.55 L1564.6 454.3 L1564.6 455.05 L1564.6 455.8 L1564.6 456.55 L1564.6 457.3 L1564.6 458.05 L1564.6 458.8 L1564.6 459.55 L1564.6 460.3 L1564.6 461.05 L1564.6 461.8 L1564.6 462.55 L1564.6 463.3 L1564.6 464.05 L1564.6 464.8 L1564.6 465.55 L1564.6 466.3 L1564.6 467.05 L1564.6 467.8 L1564.6 468.55 L1564.6 469.3 L1564.6 470.05 L1564.6 470.8 L1564.6 471.55 L1564.6 472.3 L1564.6 473.05 L1564.6 473.8 L1564.6 474.55 L1564.6 475.3 L1564.6 476.05 L1564.6 476.8 L1564.6 477.55 L1564.6 478.3 L1564.6 479.05 L1564.6 479.8 L1564.6 480.55 L1564.6 481.3 L1564.6 482.05 L1564.6 482.8 L1564.6 483.55 L1564.6 484.3 L1564.6 485.05 L1564.6 485.8 L1564.6 486.55 L1564.6 487.3 L1564.6 488.05 L1564.6 488.8 L1564.6 489.55 L1564.6 490.3 L1564.6 491.05 L1564.6 491.8 L1564.6 492.55 L1564.6 493.3 L1564.6 494.05 L1564.6 494.8 L1564.6 495.55 L1564.6 496.3 L1564.6 497.05 L1564.6 497.8 L1564.6 498.55 L1564.6 499.3 L1564.6 500.05 L1564.6 500.8 L1564.6 501.55 L1564.6 502.3 L1564.6 503.05 L1564.6 503.8 L1564.6 504.55 L1564.6 505.3 L1564.6 506.05 L1564.6 506.8 L1564.6 507.55 L1564.6 508.3 L1564.6 509.05 L1564.6 509.8 L1564.6 510.55 L1564.6 511.3 L1564.6 512.05 L1564.6 512.8 L1564.6 513.55 L1564.6 514.3 L1564.6 515.05 L1564.6 515.8 L1564.6 516.55 L1564.6 517.3 L1564.6 518.05 L1564.6 518.8 L1564.6 519.55 L1564.6 520.3 L1564.6 521.05 L1564.6 521.8 L1564.6 522.55 L1564.6 523.3 L1564.6 524.05 L1564.6 524.8 L1564.6 525.55 L1564.6 526.3 L1564.6 527.05 L1564.6 527.8 L1564.6 528.55 L1564.6 529.3 L1564.6 530.05 L1564.6 530.8 L1564.6 531.55 L1564.6 532.3 L1564.6 533.05 L1564.6 533.8 L1564.6 534.55 L1564.6 535.3 L1564.6 536.05 L1564.6 536.8 L1564.6 537.55 L1564.6 538.3 L1564.6 539.05 L1564.6 539.8 L1564.6 540.55 L1564.6 541.3 L1564.6 542.05 L1564.6 542.8 L1564.6 543.55 L1564.6 544.3 L1564.6 545.05 L1564.6 545.8 L1564.6 546.55 L1564.6 547.3 L1564.6 548.05 L1564.6 548.8 L1564.6 549.55 L1564.6 550.3 L1564.6 551.05 L1564.6 551.8 L1564.6 552.55 L1564.6 553.3 L1564.6 554.05 L1564.6 554.8 L1564.6 555.55 L1564.59 556.3 L1564.45 557.05 L1564.21 557.8 L1563.95 558.55 L1563.71 559.3 L1563.46 560.05 L1563.19 560.8 L1562.91 561.55 L1562.61 562.3 L1562.31 563.05 L1562 563.8 L1561.69 564.55 L1561.38 565.3 L1561.08 566.05 L1560.77 566.8 L1560.46 567.55 L1560.14 568.3 L1559.82 569.05 L1559.49 569.8 L1559.17 570.55 L1558.84 571.3 L1558.52 572.05 L1558.2 572.8 L1557.89 573.55 L1557.58 574.3 L1557.28 575.05 L1556.98 575.8 L1556.66 576.55 L1556.35 577.3 L1556.04 578.05 L1555.73 578.8 L1555.45 579.55 L1555.18 580.3 L1554.95 581.05 L1554.75 581.8 L1554.58 582.55 L1554.4 583.3 L1554.24 584.05 L1554.08 584.8 L1553.93 585.55 L1553.81 586.3 L1553.71 587.05 L1553.64 587.8 L1553.6 588.55 L1553.61 589.3 L1553.65 590.05 L1553.72 590.8 L1553.82 591.55 L1553.94 592.3 L1554.07 593.05 L1554.22 593.8 L1554.38 594.55 L1554.55 595.3 L1554.71 596.05 L1554.9 596.8 L1555.12 597.55 L1555.38 598.3 L1555.67 599.05 L1555.97 599.8 L1556.28 600.55 L1556.6 601.3 L1556.91 602.05 L1557.22 602.8 L1557.52 603.55 L1557.82 604.3 L1558.13 605.05 L1558.44 605.8 L1558.76 606.55 L1559.08 607.3 L1559.4 608.05 L1559.72 608.8 L1560.04 609.55 L1560.37 610.3 L1560.69 611.05 L1561.01 611.8 L1561.34 612.55 L1561.67 613.3 L1562 614.05 L1562.34 614.8 L1562.67 615.55 L1563 616.3 L1563.32 617.05 L1563.62 617.8 L1563.94 618.55 L1564.29 619.3 L1564.55 620.05 L1564.6 620.8 L1564.6 621.55 L1564.6 622.3 L1564.6 623.05 L1564.6 623.8 L1564.6 624.55 L1564.6 625.3 L1564.6 626.05 L1564.6 626.8 L1564.6 627.55 L1564.6 628.3 L1564.6 629.05 L1564.6 629.8 L1564.6 630.55 L1564.6 631.3 L1564.6 632.05 L1564.6 632.8 L1564.6 633.55 L1564.6 634.3 L1564.6 635.05 L1564.6 635.8 L1564.6 636.55 L1564.6 637.3 L1564.6 638.05 L1564.6 638.8 L1564.6 639.55 L1564.6 640.3 L1564.6 641.05 L1564.6 641.8 L1564.6 642.55 L1564.6 643.3 L1564.6 644.05 L1564.6 644.8 L1564.6 645.55 L1564.6 646.3 L1564.6 647.05 L1564.6 647.8 L1564.6 648.55 L1564.6 649.3 L1564.6 650.05 L1564.6 650.8 L1564.6 651.55 L1564.6 652.3 L1564.6 653.05 L1564.6 653.8 L1564.6 654.55 L1564.6 655.3 L1564.6 656.05 L1564.6 656.8 L1564.6 657.55 L1564.6 658.3 L1564.6 659.05 L1564.6 659.8 L1564.6 660.55 L1564.6 661.3 L1564.6 662.05 L1564.6 662.8 L1564.6 663.55 L1564.6 664.3 L1564.6 665.05 L1564.6 665.8 L1564.6 666.55 L1564.6 667.3 L1564.6 668.05 L1564.6 668.8 L1564.6 669.55 L1564.6 670.3 L1564.6 671.05 L1564.6 671.8 L1564.6 672.55 L1564.6 673.3 L1564.6 674.05 L1564.6 674.8 L1564.6 675.55 L1564.6 676.3 L1564.6 677.05 L1564.6 677.8 L1564.6 678.55 L1564.6 679.3 L1564.6 680.05 L1564.6 680.8 L1564.6 681.55 L1564.6 682.3 L1564.6 683.05 L1564.6 683.8 L1564.6 684.55 L1564.6 685.3 L1564.6 686.05 L1564.6 686.8 L1564.6 687.55 L1564.6 688.3 L1564.6 689.05 L1564.6 689.8 L1564.6 690.55 L1564.6 691.3 L1564.6 692.05 L1564.6 692.8 L1564.6 693.55 L1564.6 694.3 L1564.6 695.05 L1564.6 695.8 L1564.58 696.55 L1564.48 697.3 L1564.33 698.05 L1564.12 698.8 L1563.87 699.55 L1563.59 700.3 L1563.29 701.05 L1562.84 701.8 L1562.23 702.55 L1561.51 703.3 L1560.73 704.05 L1559.93 704.8 L1559.15 705.55 L1558.4 706.3 L1557.65 707.05 L1556.87 707.8 L1556.08 708.55 L1555.25 709.3 L1554.38 710.05 L1553.47 710.8 L1552.51 711.55 L1551.48 712.3 L1550.35 713.05 L1549.12 713.8 L1547.82 714.55 L1546.45 715.3 L1545.03 716.05 L1543.59 716.8 L1542.13 717.55 L1540.68 718.3 L1539.25 719.05 L1537.86 719.8 L1536.49 720.55 L1535.08 721.3 L1533.64 722.05 L1532.19 722.8 L1530.74 723.55 L1529.3 724.3 L1527.91 725.05 L1526.57 725.8 L1525.29 726.55 L1524.11 727.3 L1523.03 728.05 L1522.01 728.8 L1521 729.55 L1520.02 730.3 L1519.09 731.05 L1518.23 731.8 L1517.44 732.55 L1516.73 733.3 L1516.14 734.05 L1515.64 734.8 L1515.16 735.55 L1514.69 736.3 L1514.24 737.05 L1513.82 737.8 L1513.46 738.55 L1513.15 739.3 L1512.91 740.05 L1512.76 740.8 L1512.7 741.55 L1512.72 742.3 L1512.78 743.05 L1512.88 743.8 L1512.99 744.55 L1513.12 745.3 L1513.24 746.05 L1513.35 746.8 L1513.44 747.55 L1513.49 748.3 L1513.49 749.05 L1513.34 749.8 L1513.03 750.55 L1512.57 751.3 L1512 752.05 L1511.34 752.8 L1510.6 753.55 L1509.8 754.3 L1508.98 755.05 L1508.06 755.8 L1506.84 756.55 L1505.37 757.3 L1503.72 758.05 L1501.96 758.8 L1500.16 759.55 L1498.39 760.3 L1496.51 761.05 L1494.53 761.8 L1492.46 762.55 L1490.33 763.3 L1488.16 764.05 L1485.99 764.8 L1483.76 765.55 L1481.39 766.3 L1478.97 767.05 L1476.55 767.8 L1474.23 768.55 L1472.06 769.3 L1470.07 770.05 L1468.01 770.8 L1466.08 771.55 L1464.55 772.3 L1463.68 773.05 L1463.24 773.8 L1463.2 774 L1666.2 774 L1666.16 773.8 L1665.72 773.05 L1664.85 772.3 L1663.32 771.55 L1661.39 770.8 L1659.33 770.05 L1657.34 769.3 L1655.17 768.55 L1652.85 767.8 L1650.43 767.05 L1648.01 766.3 L1645.64 765.55 L1643.41 764.8 L1641.24 764.05 L1639.07 763.3 L1636.94 762.55 L1634.87 761.8 L1632.89 761.05 L1631.01 760.3 L1629.24 759.55 L1627.44 758.8 L1625.68 758.05 L1624.03 757.3 L1622.56 756.55 L1621.34 755.8 L1620.42 755.05 L1619.6 754.3 L1618.8 753.55 L1618.06 752.8 L1617.4 752.05 L1616.83 751.3 L1616.37 750.55 L1616.06 749.8 L1615.91 749.05 L1615.91 748.3 L1615.96 747.55 L1616.05 746.8 L1616.16 746.05 L1616.28 745.3 L1616.41 744.55 L1616.52 743.8 L1616.62 743.05 L1616.68 742.3 L1616.7 741.55 L1616.64 740.8 L1616.49 740.05 L1616.25 739.3 L1615.94 738.55 L1615.58 737.8 L1615.16 737.05 L1614.71 736.3 L1614.24 735.55 L1613.76 734.8 L1613.26 734.05 L1612.67 733.3 L1611.96 732.55 L1611.17 731.8 L1610.31 731.05 L1609.38 730.3 L1608.4 729.55 L1607.39 728.8 L1606.37 728.05 L1605.29 727.3 L1604.11 726.55 L1602.83 725.8 L1601.49 725.05 L1600.1 724.3 L1598.66 723.55 L1597.21 722.8 L1595.76 722.05 L1594.32 721.3 L1592.91 720.55 L1591.54 719.8 L1590.15 719.05 L1588.72 718.3 L1587.27 717.55 L1585.81 716.8 L1584.37 716.05 L1582.95 715.3 L1581.58 714.55 L1580.28 713.8 L1579.05 713.05 L1577.92 712.3 L1576.89 711.55 L1575.93 710.8 L1575.02 710.05 L1574.15 709.3 L1573.32 708.55 L1572.53 707.8 L1571.75 707.05 L1571 706.3 L1570.25 705.55 L1569.47 704.8 L1568.67 704.05 L1567.89 703.3 L1567.17 702.55 L1566.56 701.8 L1566.11 701.05 L1565.81 700.3 L1565.53 699.55 L1565.28 698.8 L1565.07 698.05 L1564.92 697.3 L1564.82 696.55 L1564.8 695.8 L1564.8 695.05 L1564.8 694.3 L1564.8 693.55 L1564.8 692.8 L1564.8 692.05 L1564.8 691.3 L1564.8 690.55 L1564.8 689.8 L1564.8 689.05 L1564.8 688.3 L1564.8 687.55 L1564.8 686.8 L1564.8 686.05 L1564.8 685.3 L1564.8 684.55 L1564.8 683.8 L1564.8 683.05 L1564.8 682.3 L1564.8 681.55 L1564.8 680.8 L1564.8 680.05 L1564.8 679.3 L1564.8 678.55 L1564.8 677.8 L1564.8 677.05 L1564.8 676.3 L1564.8 675.55 L1564.8 674.8 L1564.8 674.05 L1564.8 673.3 L1564.8 672.55 L1564.8 671.8 L1564.8 671.05 L1564.8 670.3 L1564.8 669.55 L1564.8 668.8 L1564.8 668.05 L1564.8 667.3 L1564.8 666.55 L1564.8 665.8 L1564.8 665.05 L1564.8 664.3 L1564.8 663.55 L1564.8 662.8 L1564.8 662.05 L1564.8 661.3 L1564.8 660.55 L1564.8 659.8 L1564.8 659.05 L1564.8 658.3 L1564.8 657.55 L1564.8 656.8 L1564.8 656.05 L1564.8 655.3 L1564.8 654.55 L1564.8 653.8 L1564.8 653.05 L1564.8 652.3 L1564.8 651.55 L1564.8 650.8 L1564.8 650.05 L1564.8 649.3 L1564.8 648.55 L1564.8 647.8 L1564.8 647.05 L1564.8 646.3 L1564.8 645.55 L1564.8 644.8 L1564.8 644.05 L1564.8 643.3 L1564.8 642.55 L1564.8 641.8 L1564.8 641.05 L1564.8 640.3 L1564.8 639.55 L1564.8 638.8 L1564.8 638.05 L1564.8 637.3 L1564.8 636.55 L1564.8 635.8 L1564.8 635.05 L1564.8 634.3 L1564.8 633.55 L1564.8 632.8 L1564.8 632.05 L1564.8 631.3 L1564.8 630.55 L1564.8 629.8 L1564.8 629.05 L1564.8 628.3 L1564.8 627.55 L1564.8 626.8 L1564.8 626.05 L1564.8 625.3 L1564.8 624.55 L1564.8 623.8 L1564.8 623.05 L1564.8 622.3 L1564.8 621.55 L1564.8 620.8 L1564.85 620.05 L1565.11 619.3 L1565.46 618.55 L1565.78 617.8 L1566.08 617.05 L1566.4 616.3 L1566.73 615.55 L1567.06 614.8 L1567.4 614.05 L1567.73 613.3 L1568.06 612.55 L1568.39 611.8 L1568.71 611.05 L1569.03 610.3 L1569.36 609.55 L1569.68 608.8 L1570 608.05 L1570.32 607.3 L1570.64 606.55 L1570.96 605.8 L1571.27 605.05 L1571.58 604.3 L1571.88 603.55 L1572.18 602.8 L1572.49 602.05 L1572.8 601.3 L1573.12 600.55 L1573.43 599.8 L1573.73 599.05 L1574.02 598.3 L1574.28 597.55 L1574.5 596.8 L1574.69 596.05 L1574.85 595.3 L1575.02 594.55 L1575.18 593.8 L1575.33 593.05 L1575.46 592.3 L1575.58 591.55 L1575.68 590.8 L1575.75 590.05 L1575.79 589.3 L1575.8 588.55 L1575.76 587.8 L1575.69 587.05 L1575.59 586.3 L1575.47 585.55 L1575.32 584.8 L1575.16 584.05 L1575 583.3 L1574.82 582.55 L1574.65 581.8 L1574.45 581.05 L1574.22 580.3 L1573.95 579.55 L1573.67 578.8 L1573.36 578.05 L1573.05 577.3 L1572.74 576.55 L1572.42 575.8 L1572.12 575.05 L1571.82 574.3 L1571.51 573.55 L1571.2 572.8 L1570.88 572.05 L1570.56 571.3 L1570.23 570.55 L1569.91 569.8 L1569.58 569.05 L1569.26 568.3 L1568.94 567.55 L1568.63 566.8 L1568.32 566.05 L1568.02 565.3 L1567.71 564.55 L1567.4 563.8 L1567.09 563.05 L1566.79 562.3 L1566.49 561.55 L1566.21 560.8 L1565.94 560.05 L1565.69 559.3 L1565.45 558.55 L1565.19 557.8 L1564.95 557.05 L1564.81 556.3 L1564.8 555.55 L1564.8 554.8 L1564.8 554.05 L1564.8 553.3 L1564.8 552.55 L1564.8 551.8 L1564.8 551.05 L1564.8 550.3 L1564.8 549.55 L1564.8 548.8 L1564.8 548.05 L1564.8 547.3 L1564.8 546.55 L1564.8 545.8 L1564.8 545.05 L1564.8 544.3 L1564.8 543.55 L1564.8 542.8 L1564.8 542.05 L1564.8 541.3 L1564.8 540.55 L1564.8 539.8 L1564.8 539.05 L1564.8 538.3 L1564.8 537.55 L1564.8 536.8 L1564.8 536.05 L1564.8 535.3 L1564.8 534.55 L1564.8 533.8 L1564.8 533.05 L1564.8 532.3 L1564.8 531.55 L1564.8 530.8 L1564.8 530.05 L1564.8 529.3 L1564.8 528.55 L1564.8 527.8 L1564.8 527.05 L1564.8 526.3 L1564.8 525.55 L1564.8 524.8 L1564.8 524.05 L1564.8 523.3 L1564.8 522.55 L1564.8 521.8 L1564.8 521.05 L1564.8 520.3 L1564.8 519.55 L1564.8 518.8 L1564.8 518.05 L1564.8 517.3 L1564.8 516.55 L1564.8 515.8 L1564.8 515.05 L1564.8 514.3 L1564.8 513.55 L1564.8 512.8 L1564.8 512.05 L1564.8 511.3 L1564.8 510.55 L1564.8 509.8 L1564.8 509.05 L1564.8 508.3 L1564.8 507.55 L1564.8 506.8 L1564.8 506.05 L1564.8 505.3 L1564.8 504.55 L1564.8 503.8 L1564.8 503.05 L1564.8 502.3 L1564.8 501.55 L1564.8 500.8 L1564.8 500.05 L1564.8 499.3 L1564.8 498.55 L1564.8 497.8 L1564.8 497.05 L1564.8 496.3 L1564.8 495.55 L1564.8 494.8 L1564.8 494.05 L1564.8 493.3 L1564.8 492.55 L1564.8 491.8 L1564.8 491.05 L1564.8 490.3 L1564.8 489.55 L1564.8 488.8 L1564.8 488.05 L1564.8 487.3 L1564.8 486.55 L1564.8 485.8 L1564.8 485.05 L1564.8 484.3 L1564.8 483.55 L1564.8 482.8 L1564.8 482.05 L1564.8 481.3 L1564.8 480.55 L1564.8 479.8 L1564.8 479.05 L1564.8 478.3 L1564.8 477.55 L1564.8 476.8 L1564.8 476.05 L1564.8 475.3 L1564.8 474.55 L1564.8 473.8 L1564.8 473.05 L1564.8 472.3 L1564.8 471.55 L1564.8 470.8 L1564.8 470.05 L1564.8 469.3 L1564.8 468.55 L1564.8 467.8 L1564.8 467.05 L1564.8 466.3 L1564.8 465.55 L1564.8 464.8 L1564.8 464.05 L1564.8 463.3 L1564.8 462.55 L1564.8 461.8 L1564.8 461.05 L1564.8 460.3 L1564.8 459.55 L1564.8 458.8 L1564.8 458.05 L1564.8 457.3 L1564.8 456.55 L1564.8 455.8 L1564.8 455.05 L1564.8 454.3 L1564.8 453.55 L1564.8 452.8 L1564.8 452.05 L1564.8 451.3 L1564.8 450.55 L1564.8 449.8 L1564.8 449.05 L1564.8 448.3 L1564.8 447.55 L1564.8 446.8 L1564.8 446.05 L1564.8 445.3 L1564.8 444.55 L1564.8 443.8 L1564.8 443.05 L1564.8 442.3 L1564.8 441.55 L1564.8 440.8 L1564.8 440.05 L1564.8 439.3 L1564.8 438.55 L1564.8 437.8 L1564.8 437.05 L1564.8 436.3 L1564.8 435.55 L1564.8 434.8 L1564.8 434.05 L1564.8 433.3 L1564.8 432.55 L1564.8 431.8 L1564.8 431.05 L1564.8 430.3 L1564.8 429.55 L1564.8 428.8 L1564.8 428.05 L1564.8 427.3 L1564.8 426.55 L1564.8 425.8 L1564.8 425.05 L1564.8 424.3 L1564.8 423.55 L1564.8 422.8 L1564.8 422.05 L1564.8 421.3 L1564.8 420.55 L1564.8 419.8 L1564.8 419.05 L1564.8 418.3 L1564.8 417.55 L1564.8 416.8 L1564.8 416.05 L1564.8 415.3 L1564.8 414.55 L1564.8 413.8 L1564.8 413.05 L1564.8 412.3 L1564.8 411.55 L1564.8 410.8 L1564.8 410.05 L1564.8 409.3 L1564.8 408.55 L1564.8 407.8 L1564.8 407.05 L1564.8 406.3 L1564.8 405.55 L1564.8 404.8 L1564.8 404.05 L1564.8 403.3 L1564.8 402.55 L1564.8 401.8 L1564.8 401.05 L1564.8 400.3 L1564.8 399.55 L1564.81 398.8 L1564.96 398.05 L1565.25 397.3 L1565.58 396.55 L1565.87 395.8 L1566.16 395.05 L1566.46 394.3 L1566.78 393.55 L1567.1 392.8 L1567.42 392.05 L1567.75 391.3 L1568.07 390.55 L1568.38 389.8 L1568.7 389.05 L1569.01 388.3 L1569.33 387.55 L1569.64 386.8 L1569.96 386.05 L1570.27 385.3 L1570.59 384.55 L1570.9 383.8 L1571.22 383.05 L1571.53 382.3 L1571.85 381.55 L1572.16 380.8 L1572.48 380.05 L1572.79 379.3 L1573.11 378.55 L1573.42 377.8 L1573.73 377.05 L1574.05 376.3 L1574.36 375.55 L1574.67 374.8 L1574.99 374.05 L1575.3 373.3 Z" fill="rgba(255,255,255,0.7)" stroke="#2a2a2a" stroke-width="1.6" stroke-linejoin="round"/>
<line x1="1564.8" y1="705.7" x2="1564.8" y2="752.7" stroke="#4a4a4a" stroke-width="2.1" stroke-linecap="butt"/>
<line x1="1533.5" y1="705.7" x2="1596.1" y2="705.7" stroke="#4a4a4a" stroke-width="2.1" stroke-linecap="butt"/>
<line x1="1533.5" y1="752.7" x2="1596.1" y2="752.7" stroke="#4a4a4a" stroke-width="2.1" stroke-linecap="butt"/>
<circle cx="1176.1" cy="743.46" r="3.25" fill="#000"/>
<circle cx="1176.8" cy="758.88" r="3.25" fill="#000"/>
<circle cx="1239.7" cy="758.88" r="3.25" fill="#000"/>
<circle cx="1257.4" cy="758.88" r="3.25" fill="#000"/>
<circle cx="1104.7" cy="774.3" r="3.25" fill="#000"/>
<circle cx="1187.2" cy="774.3" r="3.25" fill="#000"/>
<circle cx="1203.4" cy="774.3" r="3.25" fill="#000"/>
<circle cx="1217.2" cy="774.3" r="3.25" fill="#000"/>
<circle cx="1229" cy="774.3" r="3.25" fill="#000"/>
<circle cx="1236.5" cy="774.3" r="3.25" fill="#000"/>
<circle cx="1245" cy="774.3" r="3.25" fill="#000"/>
<circle cx="1249.3" cy="774.3" r="3.25" fill="#000"/>
<circle cx="1268.5" cy="774.3" r="3.25" fill="#000"/>
<circle cx="1277.8" cy="774.3" r="3.25" fill="#000"/>
<circle cx="1297.5" cy="774.3" r="3.25" fill="#000"/>
<circle cx="1301.7" cy="774.3" r="3.25" fill="#000"/>
<circle cx="1488.3" cy="373.18" r="3.25" fill="#000"/>
<circle cx="1596.4" cy="589.06" r="3.25" fill="#000"/>
<circle cx="1585.9" cy="727.84" r="3.25" fill="#000"/>
<circle cx="1605.1" cy="727.84" r="3.25" fill="#000"/>
<circle cx="1542.8" cy="743.26" r="3.25" fill="#000"/>
<circle cx="1562.3" cy="743.26" r="3.25" fill="#000"/>
<circle cx="1607.5" cy="743.26" r="3.25" fill="#000"/>
<circle cx="1611.6" cy="743.26" r="3.25" fill="#000"/>
<circle cx="1461.4" cy="774.1" r="3.25" fill="#000"/>
<circle cx="1493.2" cy="774.1" r="3.25" fill="#000"/>
<circle cx="1539.4" cy="774.1" r="3.25" fill="#000"/>
<circle cx="1555.8" cy="774.1" r="3.25" fill="#000"/>
<circle cx="1559.4" cy="774.1" r="3.25" fill="#000"/>
<circle cx="1567.8" cy="774.1" r="3.25" fill="#000"/>
<circle cx="1584.2" cy="774.1" r="3.25" fill="#000"/>
<circle cx="1595" cy="774.1" r="3.25" fill="#000"/>
<circle cx="1635.2" cy="774.1" r="3.25" fill="#000"/>
<line x1="85.8" y1="1619.3" x2="99.8" y2="1619.3" stroke="#c0c0c0" stroke-width="2.4" stroke-linecap="butt"/>
<text transform="translate(64.79 1631.1) scale(0.878 1)" font-size="25" fill="#444">0</text>
<line x1="85.8" y1="1445.5" x2="99.8" y2="1445.5" stroke="#c0c0c0" stroke-width="2.4" stroke-linecap="butt"/>
<text transform="translate(64.9 1457.3) scale(0.878 1)" font-size="25" fill="#444">5</text>
<line x1="85.8" y1="1271.7" x2="99.8" y2="1271.7" stroke="#c0c0c0" stroke-width="2.4" stroke-linecap="butt"/>
<text transform="translate(52.6 1283.5) scale(0.878 1)" font-size="25" fill="#444">10</text>
<line x1="85.8" y1="1097.9" x2="99.8" y2="1097.9" stroke="#c0c0c0" stroke-width="2.4" stroke-linecap="butt"/>
<text transform="translate(52.71 1109.7) scale(0.878 1)" font-size="25" fill="#444">15</text>
<line x1="85.8" y1="924.1" x2="99.8" y2="924.1" stroke="#c0c0c0" stroke-width="2.4" stroke-linecap="butt"/>
<text transform="translate(52.6 935.9) scale(0.878 1)" font-size="25" fill="#444">20</text>
<text transform="translate(26 1493.68) rotate(-90) scale(0.9029 1)" font-size="23.3" fill="#2e2e2e" stroke="#2e2e2e" stroke-width="0.15">Number of Intrusive Memories (Mean for the Week)</text>
<line x1="99.8" y1="1619.3" x2="846.7" y2="1619.3" stroke="#929292" stroke-width="2.4" stroke-linecap="butt"/>
<rect x="220.8" y="1484.43" width="169.3" height="135.87" fill="#E1D700"/>
<line x1="305.6" y1="1187.23" x2="305.6" y2="1485.43" stroke="#4a4a4a" stroke-width="2.3" stroke-linecap="butt"/>
<line x1="289.35" y1="1187.23" x2="321.85" y2="1187.23" stroke="#4a4a4a" stroke-width="2.3" stroke-linecap="butt"/>
<rect x="556.7" y="1362.77" width="169.6" height="257.53" fill="#000"/>
<line x1="641.5" y1="1089.56" x2="641.5" y2="1363.77" stroke="#4a4a4a" stroke-width="2.3" stroke-linecap="butt"/>
<line x1="624.7" y1="1089.56" x2="658.3" y2="1089.56" stroke="#4a4a4a" stroke-width="2.3" stroke-linecap="butt"/>
<line x1="99.8" y1="887.4" x2="99.8" y2="1620.5" stroke="#858585" stroke-width="2.6" stroke-linecap="butt"/>
<line x1="289.35" y1="1619.6" x2="321.85" y2="1619.6" stroke="#3a3a2a" stroke-width="1.6" stroke-linecap="butt"/>
<line x1="624.7" y1="1619.6" x2="658.3" y2="1619.6" stroke="#000" stroke-width="1.6" stroke-linecap="butt"/>
<line x1="1004.4" y1="1616.1" x2="1018.4" y2="1616.1" stroke="#c0c0c0" stroke-width="2.4" stroke-linecap="butt"/>
<text transform="translate(984.19 1627.9) scale(0.878 1)" font-size="25" fill="#444">0</text>
<line x1="1004.4" y1="1442.35" x2="1018.4" y2="1442.35" stroke="#c0c0c0" stroke-width="2.4" stroke-linecap="butt"/>
<text transform="translate(984.3 1454.15) scale(0.878 1)" font-size="25" fill="#444">5</text>
<line x1="1004.4" y1="1268.6" x2="1018.4" y2="1268.6" stroke="#c0c0c0" stroke-width="2.4" stroke-linecap="butt"/>
<text transform="translate(972 1280.4) scale(0.878 1)" font-size="25" fill="#444">10</text>
<line x1="1004.4" y1="1094.85" x2="1018.4" y2="1094.85" stroke="#c0c0c0" stroke-width="2.4" stroke-linecap="butt"/>
<text transform="translate(972.11 1106.65) scale(0.878 1)" font-size="25" fill="#444">15</text>
<line x1="1004.4" y1="921.1" x2="1018.4" y2="921.1" stroke="#c0c0c0" stroke-width="2.4" stroke-linecap="butt"/>
<text transform="translate(972 932.9) scale(0.878 1)" font-size="25" fill="#444">20</text>
<text transform="translate(944 1489.58) rotate(-90) scale(0.9028 1)" font-size="23.3" fill="#2e2e2e" stroke="#2e2e2e" stroke-width="0.15">Number of Intrusive Memories (Mean for the Week)</text>
<line x1="1018.4" y1="1616.1" x2="1766.4" y2="1616.1" stroke="#929292" stroke-width="2.4" stroke-linecap="butt"/>
<rect x="1139" y="1606.02" width="170.1" height="11.08" fill="#E1D700"/>
<line x1="1223.8" y1="1586.56" x2="1223.8" y2="1607.02" stroke="#4a4a4a" stroke-width="2.3" stroke-linecap="butt"/>
<line x1="1207.15" y1="1586.56" x2="1240.45" y2="1586.56" stroke="#4a4a4a" stroke-width="2.3" stroke-linecap="butt"/>
<rect x="1475.9" y="1515.32" width="169.9" height="101.78" fill="#000"/>
<line x1="1560.7" y1="1292.92" x2="1560.7" y2="1516.32" stroke="#4a4a4a" stroke-width="2.3" stroke-linecap="butt"/>
<line x1="1544.05" y1="1292.92" x2="1577.35" y2="1292.92" stroke="#4a4a4a" stroke-width="2.3" stroke-linecap="butt"/>
<line x1="1018.4" y1="884.7" x2="1018.4" y2="1617.3" stroke="#858585" stroke-width="2.6" stroke-linecap="butt"/>
<line x1="1207.15" y1="1616.4" x2="1240.45" y2="1616.4" stroke="#3a3a2a" stroke-width="1.6" stroke-linecap="butt"/>
<line x1="1544.05" y1="1616.4" x2="1577.35" y2="1616.4" stroke="#000" stroke-width="1.6" stroke-linecap="butt"/>
<circle cx="133.4" cy="2332.1" r="14.35" fill="#E1D700"/>
<circle cx="171" cy="2332.1" r="15.3" fill="#E1D700"/>
<circle cx="208.6" cy="2332.1" r="16.1" fill="#E1D700"/>
<circle cx="246.2" cy="2332.1" r="16.4" fill="#E1D700"/>
<circle cx="283.8" cy="2332.1" r="16" fill="#E1D700"/>
<circle cx="321.4" cy="2332.1" r="16.25" fill="#E1D700"/>
<circle cx="359" cy="2332.1" r="16.25" fill="#E1D700"/>
<circle cx="133.4" cy="2302.8" r="6.4" fill="#E1D700"/>
<circle cx="171" cy="2302.8" r="7.9" fill="#E1D700"/>
<circle cx="208.6" cy="2302.8" r="6.75" fill="#E1D700"/>
<circle cx="246.2" cy="2302.8" r="5.55" fill="#E1D700"/>
<circle cx="283.8" cy="2302.8" r="6.75" fill="#E1D700"/>
<circle cx="321.4" cy="2302.8" r="5.4" fill="#E1D700"/>
<circle cx="359" cy="2302.8" r="5" fill="#E1D700"/>
<circle cx="133.4" cy="2273.5" r="5.15" fill="#E1D700"/>
<circle cx="171" cy="2273.5" r="5.4" fill="#E1D700"/>
<circle cx="208.6" cy="2273.5" r="5.3" fill="#E1D700"/>
<circle cx="246.2" cy="2273.5" r="6.9" fill="#E1D700"/>
<circle cx="283.8" cy="2273.5" r="6.75" fill="#E1D700"/>
<circle cx="321.4" cy="2273.5" r="6.75" fill="#E1D700"/>
<circle cx="359" cy="2244.2" r="5" fill="#E1D700"/>
<circle cx="246.2" cy="2214.9" r="5.15" fill="#E1D700"/>
<circle cx="359" cy="2214.9" r="5.15" fill="#E1D700"/>
<circle cx="133.4" cy="2127" r="5.15" fill="#E1D700"/>
<circle cx="208.6" cy="2127" r="5.15" fill="#E1D700"/>
<circle cx="133.4" cy="2097.7" r="5.15" fill="#E1D700"/>
<circle cx="171" cy="1951.2" r="5.15" fill="#E1D700"/>
<path d="M133.3 2302.2 L137.13 2302.34 L140.95 2302.54 L144.78 2302.78 L148.6 2303.08 L152.43 2303.41 L156.25 2303.78 L160.08 2304.18 L163.9 2304.6 L167.73 2305.05 L171.55 2305.51 L175.38 2306.06 L179.21 2306.73 L183.03 2307.48 L186.86 2308.3 L190.68 2309.16 L194.51 2310.04 L198.33 2310.91 L202.16 2311.74 L205.98 2312.52 L209.81 2313.21 L213.63 2313.89 L217.46 2314.57 L221.28 2315.23 L225.11 2315.88 L228.94 2316.51 L232.76 2317.12 L236.59 2317.69 L240.41 2318.23 L244.24 2318.73 L248.06 2319.18 L251.89 2319.64 L255.71 2320.09 L259.54 2320.54 L263.36 2320.97 L267.19 2321.36 L271.02 2321.72 L274.84 2322.02 L278.67 2322.27 L282.49 2322.44 L286.32 2322.54 L290.14 2322.63 L293.97 2322.71 L297.79 2322.78 L301.62 2322.84 L305.44 2322.9 L309.27 2322.94 L313.09 2322.97 L316.92 2322.99 L320.75 2323 L324.57 2322.97 L328.4 2322.87 L332.22 2322.7 L336.05 2322.48 L339.87 2322.2 L343.7 2321.88 L347.52 2321.53 L351.35 2321.14 L355.17 2320.73 L359 2320.3" fill="none" stroke="#000" stroke-width="3.7" stroke-linecap="round" stroke-linejoin="round"/>
<path d="M100.6 1721 V2386.3 H392.8" fill="none" stroke="#505050" stroke-width="2.4" stroke-linejoin="round"/>
<line x1="86.8" y1="2332.1" x2="100.6" y2="2332.1" stroke="#505050" stroke-width="2.1" stroke-linecap="butt"/>
<text transform="translate(70.3 2338.55) rotate(-90) scale(0.98 1)" font-size="23.5" fill="#1c1c1c" stroke="#1c1c1c" stroke-width="0.22">0</text>
<line x1="86.8" y1="2185.6" x2="100.6" y2="2185.6" stroke="#505050" stroke-width="2.1" stroke-linecap="butt"/>
<text transform="translate(70.3 2191.99) rotate(-90) scale(0.98 1)" font-size="23.5" fill="#1c1c1c" stroke="#1c1c1c" stroke-width="0.22">5</text>
<line x1="86.8" y1="2039.1" x2="100.6" y2="2039.1" stroke="#505050" stroke-width="2.1" stroke-linecap="butt"/>
<text transform="translate(70.3 2052.34) rotate(-90) scale(0.98 1)" font-size="23.5" fill="#1c1c1c" stroke="#1c1c1c" stroke-width="0.22">10</text>
<line x1="86.8" y1="1892.6" x2="100.6" y2="1892.6" stroke="#505050" stroke-width="2.1" stroke-linecap="butt"/>
<text transform="translate(70.3 1905.78) rotate(-90) scale(0.98 1)" font-size="23.5" fill="#1c1c1c" stroke="#1c1c1c" stroke-width="0.22">15</text>
<line x1="86.8" y1="1746.1" x2="100.6" y2="1746.1" stroke="#505050" stroke-width="2.1" stroke-linecap="butt"/>
<text transform="translate(70.3 1759.05) rotate(-90) scale(0.98 1)" font-size="23.5" fill="#1c1c1c" stroke="#1c1c1c" stroke-width="0.22">20</text>
<line x1="133.4" y1="2386.3" x2="133.4" y2="2399.8" stroke="#505050" stroke-width="2.1" stroke-linecap="butt"/>
<text transform="translate(126.85 2433) scale(1 1)" font-size="22.4" fill="#1c1c1c" stroke="#1c1c1c" stroke-width="0.22">1</text>
<line x1="171" y1="2386.3" x2="171" y2="2399.8" stroke="#505050" stroke-width="2.1" stroke-linecap="butt"/>
<text transform="translate(164.78 2433) scale(1 1)" font-size="22.4" fill="#1c1c1c" stroke="#1c1c1c" stroke-width="0.22">2</text>
<line x1="208.6" y1="2386.3" x2="208.6" y2="2399.8" stroke="#505050" stroke-width="2.1" stroke-linecap="butt"/>
<text transform="translate(202.38 2433) scale(1 1)" font-size="22.4" fill="#1c1c1c" stroke="#1c1c1c" stroke-width="0.22">3</text>
<line x1="246.2" y1="2386.3" x2="246.2" y2="2399.8" stroke="#505050" stroke-width="2.1" stroke-linecap="butt"/>
<text transform="translate(240.1 2433) scale(1 1)" font-size="22.4" fill="#1c1c1c" stroke="#1c1c1c" stroke-width="0.22">4</text>
<line x1="283.8" y1="2386.3" x2="283.8" y2="2399.8" stroke="#505050" stroke-width="2.1" stroke-linecap="butt"/>
<text transform="translate(277.58 2433) scale(1 1)" font-size="22.4" fill="#1c1c1c" stroke="#1c1c1c" stroke-width="0.22">5</text>
<line x1="321.4" y1="2386.3" x2="321.4" y2="2399.8" stroke="#505050" stroke-width="2.1" stroke-linecap="butt"/>
<text transform="translate(315.07 2433) scale(1 1)" font-size="22.4" fill="#1c1c1c" stroke="#1c1c1c" stroke-width="0.22">6</text>
<line x1="359" y1="2386.3" x2="359" y2="2399.8" stroke="#505050" stroke-width="2.1" stroke-linecap="butt"/>
<text transform="translate(352.78 2433) scale(1 1)" font-size="22.4" fill="#1c1c1c" stroke="#1c1c1c" stroke-width="0.22">7</text>
<text transform="translate(189.27 2485) scale(0.9398 1)" font-size="23" fill="#1c1c1c" stroke="#1c1c1c" stroke-width="0.22">Time (Days)</text>
<text transform="translate(18.4 2245.62) rotate(-90) scale(0.9545 1)" font-size="22.5" fill="#1c1c1c" stroke="#1c1c1c" stroke-width="0.22">Number of Intrusive Memories (Per Day)</text>
<circle cx="585.8" cy="2332.1" r="11.5" fill="#0b0808"/>
<circle cx="623.27" cy="2332.1" r="9.75" fill="#0b0808"/>
<circle cx="660.74" cy="2332.1" r="13.25" fill="#0b0808"/>
<circle cx="698.21" cy="2332.1" r="13" fill="#0b0808"/>
<circle cx="735.68" cy="2332.1" r="14.2" fill="#0b0808"/>
<circle cx="773.15" cy="2332.1" r="15.3" fill="#0b0808"/>
<circle cx="810.62" cy="2332.1" r="14.6" fill="#0b0808"/>
<circle cx="585.8" cy="2302.8" r="6.75" fill="#0b0808"/>
<circle cx="623.27" cy="2302.8" r="11.25" fill="#0b0808"/>
<circle cx="660.74" cy="2302.8" r="5.95" fill="#0b0808"/>
<circle cx="698.21" cy="2302.8" r="11.25" fill="#0b0808"/>
<circle cx="735.68" cy="2302.8" r="7.9" fill="#0b0808"/>
<circle cx="773.15" cy="2302.8" r="5.3" fill="#0b0808"/>
<circle cx="810.62" cy="2302.8" r="7.6" fill="#0b0808"/>
<circle cx="585.8" cy="2273.5" r="8.55" fill="#0b0808"/>
<circle cx="623.27" cy="2273.5" r="4.35" fill="#0b0808"/>
<circle cx="660.74" cy="2273.5" r="9.5" fill="#0b0808"/>
<circle cx="698.21" cy="2273.5" r="4.2" fill="#0b0808"/>
<circle cx="735.68" cy="2273.5" r="4.2" fill="#0b0808"/>
<circle cx="773.15" cy="2273.5" r="6.4" fill="#0b0808"/>
<circle cx="810.62" cy="2273.5" r="7.6" fill="#0b0808"/>
<circle cx="585.8" cy="2244.2" r="6.75" fill="#0b0808"/>
<circle cx="623.27" cy="2244.2" r="7.6" fill="#0b0808"/>
<circle cx="660.74" cy="2244.2" r="6.25" fill="#0b0808"/>
<circle cx="735.68" cy="2244.2" r="4.2" fill="#0b0808"/>
<circle cx="773.15" cy="2244.2" r="4.45" fill="#0b0808"/>
<circle cx="585.8" cy="2214.9" r="4.45" fill="#0b0808"/>
<circle cx="623.27" cy="2214.9" r="7.6" fill="#0b0808"/>
<circle cx="698.21" cy="2214.9" r="6.25" fill="#0b0808"/>
<circle cx="735.68" cy="2214.9" r="4.2" fill="#0b0808"/>
<circle cx="773.15" cy="2214.9" r="4.45" fill="#0b0808"/>
<circle cx="810.62" cy="2214.9" r="4.2" fill="#0b0808"/>
<circle cx="585.8" cy="2127" r="4.45" fill="#0b0808"/>
<circle cx="585.8" cy="2039.1" r="4.45" fill="#0b0808"/>
<path d="M586.3 2273.7 L590.1 2275.23 L593.9 2276.76 L597.71 2278.27 L601.51 2279.78 L605.31 2281.28 L609.11 2282.77 L612.91 2284.25 L616.71 2285.72 L620.52 2287.19 L624.32 2288.64 L628.12 2290.14 L631.92 2291.69 L635.72 2293.26 L639.52 2294.84 L643.33 2296.38 L647.13 2297.86 L650.93 2299.24 L654.73 2300.51 L658.53 2301.62 L662.33 2302.56 L666.14 2303.43 L669.94 2304.25 L673.74 2305.02 L677.54 2305.74 L681.34 2306.41 L685.14 2307.04 L688.95 2307.62 L692.75 2308.15 L696.55 2308.64 L700.35 2309.09 L704.15 2309.53 L707.95 2309.95 L711.76 2310.35 L715.56 2310.73 L719.36 2311.09 L723.16 2311.41 L726.96 2311.69 L730.76 2311.93 L734.57 2312.12 L738.37 2312.26 L742.17 2312.39 L745.97 2312.51 L749.77 2312.62 L753.57 2312.72 L757.38 2312.81 L761.18 2312.89 L764.98 2312.95 L768.78 2312.98 L772.58 2313 L776.38 2312.99 L780.19 2312.94 L783.99 2312.87 L787.79 2312.76 L791.59 2312.63 L795.39 2312.47 L799.19 2312.28 L803 2312.08 L806.8 2311.85 L810.6 2311.6" fill="none" stroke="#000" stroke-width="2.8" stroke-linecap="round" stroke-linejoin="round"/>
<path d="M552.4 1721 V2386.3 H845" fill="none" stroke="#505050" stroke-width="2.4" stroke-linejoin="round"/>
<line x1="538.6" y1="2332.1" x2="552.4" y2="2332.1" stroke="#505050" stroke-width="2.1" stroke-linecap="butt"/>
<text transform="translate(521.3 2338.55) rotate(-90) scale(0.98 1)" font-size="23.5" fill="#1c1c1c" stroke="#1c1c1c" stroke-width="0.22">0</text>
<line x1="538.6" y1="2185.6" x2="552.4" y2="2185.6" stroke="#505050" stroke-width="2.1" stroke-linecap="butt"/>
<text transform="translate(521.3 2191.99) rotate(-90) scale(0.98 1)" font-size="23.5" fill="#1c1c1c" stroke="#1c1c1c" stroke-width="0.22">5</text>
<line x1="538.6" y1="2039.1" x2="552.4" y2="2039.1" stroke="#505050" stroke-width="2.1" stroke-linecap="butt"/>
<text transform="translate(521.3 2052.34) rotate(-90) scale(0.98 1)" font-size="23.5" fill="#1c1c1c" stroke="#1c1c1c" stroke-width="0.22">10</text>
<line x1="538.6" y1="1892.6" x2="552.4" y2="1892.6" stroke="#505050" stroke-width="2.1" stroke-linecap="butt"/>
<text transform="translate(521.3 1905.78) rotate(-90) scale(0.98 1)" font-size="23.5" fill="#1c1c1c" stroke="#1c1c1c" stroke-width="0.22">15</text>
<line x1="538.6" y1="1746.1" x2="552.4" y2="1746.1" stroke="#505050" stroke-width="2.1" stroke-linecap="butt"/>
<text transform="translate(521.3 1759.05) rotate(-90) scale(0.98 1)" font-size="23.5" fill="#1c1c1c" stroke="#1c1c1c" stroke-width="0.22">20</text>
<line x1="585.8" y1="2386.3" x2="585.8" y2="2399.8" stroke="#505050" stroke-width="2.1" stroke-linecap="butt"/>
<text transform="translate(579.25 2433) scale(1 1)" font-size="22.4" fill="#1c1c1c" stroke="#1c1c1c" stroke-width="0.22">1</text>
<line x1="623.27" y1="2386.3" x2="623.27" y2="2399.8" stroke="#505050" stroke-width="2.1" stroke-linecap="butt"/>
<text transform="translate(617.05 2433) scale(1 1)" font-size="22.4" fill="#1c1c1c" stroke="#1c1c1c" stroke-width="0.22">2</text>
<line x1="660.74" y1="2386.3" x2="660.74" y2="2399.8" stroke="#505050" stroke-width="2.1" stroke-linecap="butt"/>
<text transform="translate(654.52 2433) scale(1 1)" font-size="22.4" fill="#1c1c1c" stroke="#1c1c1c" stroke-width="0.22">3</text>
<line x1="698.21" y1="2386.3" x2="698.21" y2="2399.8" stroke="#505050" stroke-width="2.1" stroke-linecap="butt"/>
<text transform="translate(692.11 2433) scale(1 1)" font-size="22.4" fill="#1c1c1c" stroke="#1c1c1c" stroke-width="0.22">4</text>
<line x1="735.68" y1="2386.3" x2="735.68" y2="2399.8" stroke="#505050" stroke-width="2.1" stroke-linecap="butt"/>
<text transform="translate(729.46 2433) scale(1 1)" font-size="22.4" fill="#1c1c1c" stroke="#1c1c1c" stroke-width="0.22">5</text>
<line x1="773.15" y1="2386.3" x2="773.15" y2="2399.8" stroke="#505050" stroke-width="2.1" stroke-linecap="butt"/>
<text transform="translate(766.82 2433) scale(1 1)" font-size="22.4" fill="#1c1c1c" stroke="#1c1c1c" stroke-width="0.22">6</text>
<line x1="810.62" y1="2386.3" x2="810.62" y2="2399.8" stroke="#505050" stroke-width="2.1" stroke-linecap="butt"/>
<text transform="translate(804.4 2433) scale(1 1)" font-size="22.4" fill="#1c1c1c" stroke="#1c1c1c" stroke-width="0.22">7</text>
<text transform="translate(640.57 2485) scale(0.9406 1)" font-size="23" fill="#1c1c1c" stroke="#1c1c1c" stroke-width="0.22">Time (Days)</text>
<text transform="translate(470 2245.62) rotate(-90) scale(0.9545 1)" font-size="22.5" fill="#1c1c1c" stroke="#1c1c1c" stroke-width="0.22">Number of Intrusive Memories (Per Day)</text>
<circle cx="1055" cy="2335.7" r="16" fill="#E1D700"/>
<circle cx="1092.62" cy="2335.7" r="16" fill="#E1D700"/>
<circle cx="1130.24" cy="2335.7" r="16" fill="#E1D700"/>
<circle cx="1167.86" cy="2335.7" r="16" fill="#E1D700"/>
<circle cx="1205.48" cy="2335.7" r="16" fill="#E1D700"/>
<circle cx="1243.1" cy="2335.7" r="16" fill="#E1D700"/>
<circle cx="1280.72" cy="2335.7" r="16" fill="#E1D700"/>
<circle cx="1092.62" cy="2306.32" r="4.9" fill="#E1D700"/>
<circle cx="1167.86" cy="2306.32" r="6.1" fill="#E1D700"/>
<circle cx="1205.48" cy="2306.32" r="4.6" fill="#E1D700"/>
<circle cx="1243.1" cy="2306.32" r="4.9" fill="#E1D700"/>
<path d="M1055 2335.7 L1058.83 2335.7 L1062.65 2335.69 L1066.48 2335.68 L1070.3 2335.67 L1074.13 2335.65 L1077.95 2335.63 L1081.78 2335.61 L1085.6 2335.58 L1089.43 2335.56 L1093.25 2335.52 L1097.08 2335.49 L1100.91 2335.45 L1104.73 2335.41 L1108.56 2335.37 L1112.38 2335.33 L1116.21 2335.28 L1120.03 2335.23 L1123.86 2335.18 L1127.68 2335.13 L1131.51 2335.07 L1135.33 2334.97 L1139.16 2334.83 L1142.98 2334.67 L1146.81 2334.49 L1150.64 2334.3 L1154.46 2334.13 L1158.29 2333.98 L1162.11 2333.87 L1165.94 2333.81 L1169.76 2333.81 L1173.59 2333.86 L1177.41 2333.95 L1181.24 2334.08 L1185.06 2334.22 L1188.89 2334.37 L1192.72 2334.53 L1196.54 2334.67 L1200.37 2334.79 L1204.19 2334.89 L1208.02 2334.95 L1211.84 2335.01 L1215.67 2335.07 L1219.49 2335.13 L1223.32 2335.19 L1227.14 2335.25 L1230.97 2335.3 L1234.79 2335.35 L1238.62 2335.4 L1242.45 2335.45 L1246.27 2335.49 L1250.1 2335.53 L1253.92 2335.57 L1257.75 2335.6 L1261.57 2335.63 L1265.4 2335.66 L1269.22 2335.67 L1273.05 2335.69 L1276.87 2335.7 L1280.7 2335.7" fill="none" stroke="#000" stroke-width="3.7" stroke-linecap="round" stroke-linejoin="round"/>
<path d="M1021.4 1722.4 V2388.8 H1314" fill="none" stroke="#505050" stroke-width="2.4" stroke-linejoin="round"/>
<line x1="1007.6" y1="2335.7" x2="1021.4" y2="2335.7" stroke="#505050" stroke-width="2.1" stroke-linecap="butt"/>
<text transform="translate(990.2 2342.15) rotate(-90) scale(0.98 1)" font-size="23.5" fill="#1c1c1c" stroke="#1c1c1c" stroke-width="0.22">0</text>
<line x1="1007.6" y1="2188.8" x2="1021.4" y2="2188.8" stroke="#505050" stroke-width="2.1" stroke-linecap="butt"/>
<text transform="translate(990.2 2195.19) rotate(-90) scale(0.98 1)" font-size="23.5" fill="#1c1c1c" stroke="#1c1c1c" stroke-width="0.22">5</text>
<line x1="1007.6" y1="2041.9" x2="1021.4" y2="2041.9" stroke="#505050" stroke-width="2.1" stroke-linecap="butt"/>
<text transform="translate(990.2 2055.14) rotate(-90) scale(0.98 1)" font-size="23.5" fill="#1c1c1c" stroke="#1c1c1c" stroke-width="0.22">10</text>
<line x1="1007.6" y1="1895" x2="1021.4" y2="1895" stroke="#505050" stroke-width="2.1" stroke-linecap="butt"/>
<text transform="translate(990.2 1908.18) rotate(-90) scale(0.98 1)" font-size="23.5" fill="#1c1c1c" stroke="#1c1c1c" stroke-width="0.22">15</text>
<line x1="1007.6" y1="1748.1" x2="1021.4" y2="1748.1" stroke="#505050" stroke-width="2.1" stroke-linecap="butt"/>
<text transform="translate(990.2 1761.05) rotate(-90) scale(0.98 1)" font-size="23.5" fill="#1c1c1c" stroke="#1c1c1c" stroke-width="0.22">20</text>
<line x1="1055" y1="2388.8" x2="1055" y2="2402.3" stroke="#505050" stroke-width="2.1" stroke-linecap="butt"/>
<text transform="translate(1048.45 2436.8) scale(1 1)" font-size="22.4" fill="#1c1c1c" stroke="#1c1c1c" stroke-width="0.22">1</text>
<line x1="1092.62" y1="2388.8" x2="1092.62" y2="2402.3" stroke="#505050" stroke-width="2.1" stroke-linecap="butt"/>
<text transform="translate(1086.4 2436.8) scale(1 1)" font-size="22.4" fill="#1c1c1c" stroke="#1c1c1c" stroke-width="0.22">2</text>
<line x1="1130.24" y1="2388.8" x2="1130.24" y2="2402.3" stroke="#505050" stroke-width="2.1" stroke-linecap="butt"/>
<text transform="translate(1124.02 2436.8) scale(1 1)" font-size="22.4" fill="#1c1c1c" stroke="#1c1c1c" stroke-width="0.22">3</text>
<line x1="1167.86" y1="2388.8" x2="1167.86" y2="2402.3" stroke="#505050" stroke-width="2.1" stroke-linecap="butt"/>
<text transform="translate(1161.76 2436.8) scale(1 1)" font-size="22.4" fill="#1c1c1c" stroke="#1c1c1c" stroke-width="0.22">4</text>
<line x1="1205.48" y1="2388.8" x2="1205.48" y2="2402.3" stroke="#505050" stroke-width="2.1" stroke-linecap="butt"/>
<text transform="translate(1199.26 2436.8) scale(1 1)" font-size="22.4" fill="#1c1c1c" stroke="#1c1c1c" stroke-width="0.22">5</text>
<line x1="1243.1" y1="2388.8" x2="1243.1" y2="2402.3" stroke="#505050" stroke-width="2.1" stroke-linecap="butt"/>
<text transform="translate(1236.77 2436.8) scale(1 1)" font-size="22.4" fill="#1c1c1c" stroke="#1c1c1c" stroke-width="0.22">6</text>
<line x1="1280.72" y1="2388.8" x2="1280.72" y2="2402.3" stroke="#505050" stroke-width="2.1" stroke-linecap="butt"/>
<text transform="translate(1274.5 2436.8) scale(1 1)" font-size="22.4" fill="#1c1c1c" stroke="#1c1c1c" stroke-width="0.22">7</text>
<text transform="translate(1110.87 2488.2) scale(0.9406 1)" font-size="23" fill="#1c1c1c" stroke="#1c1c1c" stroke-width="0.22">Time (Days)</text>
<text transform="translate(939.8 2248.72) rotate(-90) scale(0.9545 1)" font-size="22.5" fill="#1c1c1c" stroke="#1c1c1c" stroke-width="0.22">Number of Intrusive Memories (Per Day)</text>
<circle cx="1507.6" cy="2335.7" r="15.3" fill="#0b0808"/>
<circle cx="1545.32" cy="2335.7" r="13.9" fill="#0b0808"/>
<circle cx="1583.04" cy="2335.7" r="14.2" fill="#0b0808"/>
<circle cx="1620.76" cy="2335.7" r="15.15" fill="#0b0808"/>
<circle cx="1658.48" cy="2335.7" r="14.4" fill="#0b0808"/>
<circle cx="1696.2" cy="2335.7" r="13.9" fill="#0b0808"/>
<circle cx="1733.92" cy="2335.7" r="15.05" fill="#0b0808"/>
<circle cx="1507.6" cy="2306.32" r="6.25" fill="#0b0808"/>
<circle cx="1545.32" cy="2306.32" r="6.1" fill="#0b0808"/>
<circle cx="1583.04" cy="2306.32" r="6.1" fill="#0b0808"/>
<circle cx="1658.48" cy="2306.32" r="7.15" fill="#0b0808"/>
<circle cx="1696.2" cy="2306.32" r="6.25" fill="#0b0808"/>
<circle cx="1733.92" cy="2306.32" r="3.8" fill="#0b0808"/>
<circle cx="1545.32" cy="2276.94" r="6.75" fill="#0b0808"/>
<circle cx="1583.04" cy="2276.94" r="4.05" fill="#0b0808"/>
<circle cx="1620.76" cy="2276.94" r="3.9" fill="#0b0808"/>
<circle cx="1658.48" cy="2276.94" r="6.5" fill="#0b0808"/>
<circle cx="1696.2" cy="2276.94" r="3.8" fill="#0b0808"/>
<circle cx="1733.92" cy="2276.94" r="4.35" fill="#0b0808"/>
<circle cx="1545.32" cy="2247.56" r="4.05" fill="#0b0808"/>
<circle cx="1583.04" cy="2247.56" r="4.05" fill="#0b0808"/>
<circle cx="1507.6" cy="2218.18" r="4.45" fill="#0b0808"/>
<circle cx="1696.2" cy="2218.18" r="4.35" fill="#0b0808"/>
<circle cx="1733.92" cy="2218.18" r="4.35" fill="#0b0808"/>
<circle cx="1620.76" cy="2159.42" r="4.2" fill="#0b0808"/>
<path d="M1507.6 2324.1 L1511.44 2323.72 L1515.27 2323.35 L1519.11 2323 L1522.94 2322.68 L1526.78 2322.39 L1530.61 2322.15 L1534.45 2321.95 L1538.28 2321.8 L1542.12 2321.72 L1545.96 2321.7 L1549.79 2321.71 L1553.63 2321.74 L1557.46 2321.78 L1561.3 2321.83 L1565.13 2321.88 L1568.97 2321.94 L1572.81 2321.99 L1576.64 2322.04 L1580.48 2322.08 L1584.31 2322.11 L1588.15 2322.14 L1591.98 2322.17 L1595.82 2322.2 L1599.65 2322.22 L1603.49 2322.25 L1607.33 2322.28 L1611.16 2322.31 L1615 2322.33 L1618.83 2322.36 L1622.67 2322.38 L1626.5 2322.4 L1630.34 2322.42 L1634.17 2322.44 L1638.01 2322.46 L1641.85 2322.47 L1645.68 2322.48 L1649.52 2322.49 L1653.35 2322.5 L1657.19 2322.5 L1661.02 2322.5 L1664.86 2322.5 L1668.69 2322.5 L1672.53 2322.5 L1676.37 2322.5 L1680.2 2322.5 L1684.04 2322.5 L1687.87 2322.5 L1691.71 2322.5 L1695.54 2322.5 L1699.38 2322.5 L1703.22 2322.5 L1707.05 2322.5 L1710.89 2322.5 L1714.72 2322.5 L1718.56 2322.5 L1722.39 2322.5 L1726.23 2322.5 L1730.06 2322.5 L1733.9 2322.5" fill="none" stroke="#000" stroke-width="2.8" stroke-linecap="round" stroke-linejoin="round"/>
<path d="M1474.6 1722.4 V2388.8 H1767.2" fill="none" stroke="#505050" stroke-width="2.4" stroke-linejoin="round"/>
<line x1="1460.8" y1="2335.7" x2="1474.6" y2="2335.7" stroke="#505050" stroke-width="2.1" stroke-linecap="butt"/>
<text transform="translate(1443.4 2342.15) rotate(-90) scale(0.98 1)" font-size="23.5" fill="#1c1c1c" stroke="#1c1c1c" stroke-width="0.22">0</text>
<line x1="1460.8" y1="2188.8" x2="1474.6" y2="2188.8" stroke="#505050" stroke-width="2.1" stroke-linecap="butt"/>
<text transform="translate(1443.4 2195.19) rotate(-90) scale(0.98 1)" font-size="23.5" fill="#1c1c1c" stroke="#1c1c1c" stroke-width="0.22">5</text>
<line x1="1460.8" y1="2041.9" x2="1474.6" y2="2041.9" stroke="#505050" stroke-width="2.1" stroke-linecap="butt"/>
<text transform="translate(1443.4 2055.14) rotate(-90) scale(0.98 1)" font-size="23.5" fill="#1c1c1c" stroke="#1c1c1c" stroke-width="0.22">10</text>
<line x1="1460.8" y1="1895" x2="1474.6" y2="1895" stroke="#505050" stroke-width="2.1" stroke-linecap="butt"/>
<text transform="translate(1443.4 1908.18) rotate(-90) scale(0.98 1)" font-size="23.5" fill="#1c1c1c" stroke="#1c1c1c" stroke-width="0.22">15</text>
<line x1="1460.8" y1="1748.1" x2="1474.6" y2="1748.1" stroke="#505050" stroke-width="2.1" stroke-linecap="butt"/>
<text transform="translate(1443.4 1761.05) rotate(-90) scale(0.98 1)" font-size="23.5" fill="#1c1c1c" stroke="#1c1c1c" stroke-width="0.22">20</text>
<line x1="1507.6" y1="2388.8" x2="1507.6" y2="2402.3" stroke="#505050" stroke-width="2.1" stroke-linecap="butt"/>
<text transform="translate(1501.05 2436.8) scale(1 1)" font-size="22.4" fill="#1c1c1c" stroke="#1c1c1c" stroke-width="0.22">1</text>
<line x1="1545.32" y1="2388.8" x2="1545.32" y2="2402.3" stroke="#505050" stroke-width="2.1" stroke-linecap="butt"/>
<text transform="translate(1539.1 2436.8) scale(1 1)" font-size="22.4" fill="#1c1c1c" stroke="#1c1c1c" stroke-width="0.22">2</text>
<line x1="1583.04" y1="2388.8" x2="1583.04" y2="2402.3" stroke="#505050" stroke-width="2.1" stroke-linecap="butt"/>
<text transform="translate(1576.82 2436.8) scale(1 1)" font-size="22.4" fill="#1c1c1c" stroke="#1c1c1c" stroke-width="0.22">3</text>
<line x1="1620.76" y1="2388.8" x2="1620.76" y2="2402.3" stroke="#505050" stroke-width="2.1" stroke-linecap="butt"/>
<text transform="translate(1614.66 2436.8) scale(1 1)" font-size="22.4" fill="#1c1c1c" stroke="#1c1c1c" stroke-width="0.22">4</text>
<line x1="1658.48" y1="2388.8" x2="1658.48" y2="2402.3" stroke="#505050" stroke-width="2.1" stroke-linecap="butt"/>
<text transform="translate(1652.26 2436.8) scale(1 1)" font-size="22.4" fill="#1c1c1c" stroke="#1c1c1c" stroke-width="0.22">5</text>
<line x1="1696.2" y1="2388.8" x2="1696.2" y2="2402.3" stroke="#505050" stroke-width="2.1" stroke-linecap="butt"/>
<text transform="translate(1689.87 2436.8) scale(1 1)" font-size="22.4" fill="#1c1c1c" stroke="#1c1c1c" stroke-width="0.22">6</text>
<line x1="1733.92" y1="2388.8" x2="1733.92" y2="2402.3" stroke="#505050" stroke-width="2.1" stroke-linecap="butt"/>
<text transform="translate(1727.7 2436.8) scale(1 1)" font-size="22.4" fill="#1c1c1c" stroke="#1c1c1c" stroke-width="0.22">7</text>
<text transform="translate(1563.07 2488.2) scale(0.9398 1)" font-size="23" fill="#1c1c1c" stroke="#1c1c1c" stroke-width="0.22">Time (Days)</text>
<text transform="translate(1392.5 2248.72) rotate(-90) scale(0.9545 1)" font-size="22.5" fill="#1c1c1c" stroke="#1c1c1c" stroke-width="0.22">Number of Intrusive Memories (Per Day)</text>
</svg>
</body></html>
